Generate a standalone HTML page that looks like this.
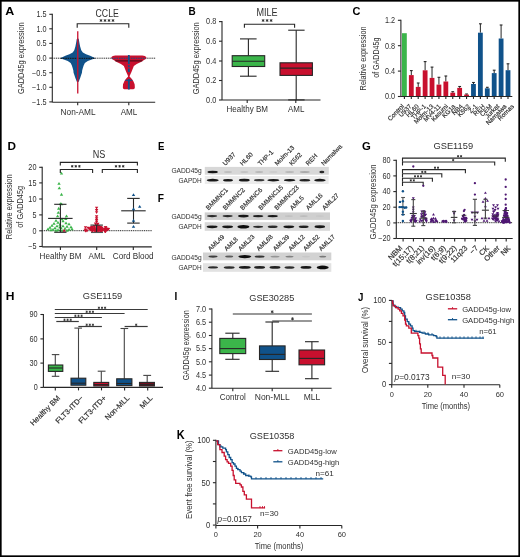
<!DOCTYPE html>
<html><head><meta charset="utf-8"><style>
html,body{margin:0;padding:0;background:#fff;width:520px;height:557px;overflow:hidden}
svg{display:block;will-change:transform;font-family:"Liberation Sans",sans-serif}
</style></head><body>
<svg width="520" height="557" viewBox="0 0 520 557">
<rect width="520" height="557" fill="#fff"/>
<text x="5.30" y="14.70" font-size="11.74" font-weight="bold" fill="#000" textLength="9.00" lengthAdjust="spacingAndGlyphs">A</text>
<line x1="52.30" y1="13.80" x2="52.30" y2="102.20" stroke="#262626" stroke-width="1.1" />
<line x1="49.30" y1="14.30" x2="52.30" y2="14.30" stroke="#262626" stroke-width="1.1" />
<text x="46.55" y="17.17" font-size="8.2" fill="#303030" text-anchor="end" textLength="10.16" lengthAdjust="spacingAndGlyphs">1.5</text>
<line x1="49.30" y1="28.80" x2="52.30" y2="28.80" stroke="#262626" stroke-width="1.1" />
<text x="46.55" y="31.67" font-size="8.2" fill="#303030" text-anchor="end" textLength="10.16" lengthAdjust="spacingAndGlyphs">1.0</text>
<line x1="49.30" y1="43.40" x2="52.30" y2="43.40" stroke="#262626" stroke-width="1.1" />
<text x="46.55" y="46.27" font-size="8.2" fill="#303030" text-anchor="end" textLength="10.16" lengthAdjust="spacingAndGlyphs">0.5</text>
<line x1="49.30" y1="58.10" x2="52.30" y2="58.10" stroke="#262626" stroke-width="1.1" />
<text x="46.55" y="60.97" font-size="8.2" fill="#303030" text-anchor="end" textLength="10.16" lengthAdjust="spacingAndGlyphs">0.0</text>
<line x1="49.30" y1="72.70" x2="52.30" y2="72.70" stroke="#262626" stroke-width="1.1" />
<text x="46.55" y="75.57" font-size="8.2" fill="#303030" text-anchor="end" textLength="14.47" lengthAdjust="spacingAndGlyphs">−0.5</text>
<line x1="49.30" y1="87.30" x2="52.30" y2="87.30" stroke="#262626" stroke-width="1.1" />
<text x="46.55" y="90.17" font-size="8.2" fill="#303030" text-anchor="end" textLength="14.47" lengthAdjust="spacingAndGlyphs">−1.0</text>
<line x1="49.30" y1="101.90" x2="52.30" y2="101.90" stroke="#262626" stroke-width="1.1" />
<text x="46.55" y="104.77" font-size="8.2" fill="#303030" text-anchor="end" textLength="14.47" lengthAdjust="spacingAndGlyphs">−1.5</text>
<line x1="52.30" y1="102.20" x2="155.20" y2="102.20" stroke="#262626" stroke-width="1.1" />
<line x1="77.70" y1="102.20" x2="77.70" y2="105.20" stroke="#262626" stroke-width="1.1" />
<line x1="128.80" y1="102.20" x2="128.80" y2="105.20" stroke="#262626" stroke-width="1.1" />
<text x="60.55" y="114.70" font-size="8.2" fill="#303030" font-weight="normal" textLength="35.10" lengthAdjust="spacingAndGlyphs" >Non-AML</text>
<text x="120.65" y="114.70" font-size="8.2" fill="#303030" font-weight="normal" textLength="16.60" lengthAdjust="spacingAndGlyphs" >AML</text>
<text x="0" y="0" font-size="8.7" text-anchor="middle" fill="#303030" textLength="71.80" lengthAdjust="spacingAndGlyphs" transform="translate(24.10,58.20) rotate(-90)">GADD45g expression</text>
<text x="95.55" y="16.50" font-size="10.5" fill="#303030" font-weight="normal" textLength="23.30" lengthAdjust="spacingAndGlyphs" >CCLE</text>
<path d="M77.20,27.70 L77.20,23.70 L128.80,23.70 L128.80,27.70" fill="none" stroke="#262626" stroke-width="1.1"/>
<line x1="101.00" y1="19.05" x2="101.00" y2="21.95" stroke="#262626" stroke-width="0.85" />
<line x1="99.74" y1="19.77" x2="102.26" y2="21.23" stroke="#262626" stroke-width="0.85" />
<line x1="102.26" y1="19.77" x2="99.74" y2="21.23" stroke="#262626" stroke-width="0.85" />
<line x1="105.00" y1="19.05" x2="105.00" y2="21.95" stroke="#262626" stroke-width="0.85" />
<line x1="103.74" y1="19.77" x2="106.26" y2="21.23" stroke="#262626" stroke-width="0.85" />
<line x1="106.26" y1="19.77" x2="103.74" y2="21.23" stroke="#262626" stroke-width="0.85" />
<line x1="109.00" y1="19.05" x2="109.00" y2="21.95" stroke="#262626" stroke-width="0.85" />
<line x1="107.74" y1="19.77" x2="110.26" y2="21.23" stroke="#262626" stroke-width="0.85" />
<line x1="110.26" y1="19.77" x2="107.74" y2="21.23" stroke="#262626" stroke-width="0.85" />
<line x1="113.00" y1="19.05" x2="113.00" y2="21.95" stroke="#262626" stroke-width="0.85" />
<line x1="111.74" y1="19.77" x2="114.26" y2="21.23" stroke="#262626" stroke-width="0.85" />
<line x1="114.26" y1="19.77" x2="111.74" y2="21.23" stroke="#262626" stroke-width="0.85" />
<line x1="52.30" y1="58.20" x2="155.20" y2="58.20" stroke="#262626" stroke-width="1.0" stroke-dasharray="1.1 0.75"/>
<path d="M77.76,38.20 L78.76,39.00 L79.26,42.10 L80.06,46.20 L81.26,50.20 L82.86,52.60 L86.06,54.20 L90.16,55.80 L93.76,57.50 L95.36,58.30 L91.76,59.50 L87.76,61.10 L84.86,63.10 L83.66,65.50 L82.86,68.00 L82.16,70.40 L81.96,72.70 L81.16,75.00 L80.26,77.80 L79.36,80.00 L78.86,81.50 L77.76,82.30 L77.76,82.30 L76.66,81.50 L76.16,80.00 L75.26,77.80 L74.36,75.00 L73.56,72.70 L73.36,70.40 L72.66,68.00 L71.86,65.50 L70.66,63.10 L67.76,61.10 L63.76,59.50 L60.16,58.30 L61.76,57.50 L65.36,55.80 L69.46,54.20 L72.66,52.60 L74.26,50.20 L75.46,46.20 L76.26,42.10 L76.76,39.00 L77.76,38.20Z" fill="#10528a" stroke="none" stroke-width="0"/>
<line x1="60.76" y1="58.30" x2="94.76" y2="58.30" stroke="#111" stroke-width="1.0" stroke-dasharray="1.5 0.8"/>
<line x1="77.76" y1="31.30" x2="77.76" y2="93.50" stroke="#c8102e" stroke-width="1.3" />
<path d="M142.34,55.40 L144.84,55.90 L146.14,57.00 L146.44,58.10 L145.44,59.20 L144.04,60.10 L140.94,62.10 L136.74,64.10 L133.84,66.10 L132.64,69.00 L131.34,72.20 L129.84,75.40 L129.54,76.60 L131.64,78.70 L133.24,81.10 L134.64,84.30 L134.84,87.50 L134.44,88.70 L133.34,89.20 L124.34,89.20 L123.24,88.70 L122.84,87.50 L123.04,84.30 L124.44,81.10 L126.04,78.70 L128.14,76.60 L127.84,75.40 L126.34,72.20 L125.04,69.00 L123.84,66.10 L120.94,64.10 L116.74,62.10 L113.64,60.10 L112.24,59.20 L111.24,58.10 L111.54,57.00 L112.84,55.90 L115.34,55.40Z" fill="#c8102e" stroke="none" stroke-width="0"/>
<line x1="111.84" y1="58.20" x2="145.84" y2="58.20" stroke="#10528a" stroke-width="1.1" stroke-dasharray="1.4 1.0"/>
<line x1="115.34" y1="60.90" x2="142.34" y2="60.90" stroke="#3a0a14" stroke-width="1.0" />
<line x1="125.34" y1="80.30" x2="132.34" y2="80.30" stroke="#10528a" stroke-width="1.0" />
<line x1="128.84" y1="55.10" x2="128.84" y2="89.60" stroke="#10528a" stroke-width="1.8" stroke-dasharray="9 1.2 2 1.2 3.6 7 10.5"/>
<text x="188.50" y="14.70" font-size="11.74" font-weight="bold" fill="#000" textLength="7.20" lengthAdjust="spacingAndGlyphs">B</text>
<line x1="222.00" y1="21.10" x2="222.00" y2="100.00" stroke="#262626" stroke-width="1.1" />
<line x1="219.00" y1="21.60" x2="222.00" y2="21.60" stroke="#262626" stroke-width="1.1" />
<text x="216.25" y="24.47" font-size="8.2" fill="#303030" text-anchor="end" textLength="10.16" lengthAdjust="spacingAndGlyphs">0.8</text>
<line x1="219.00" y1="41.20" x2="222.00" y2="41.20" stroke="#262626" stroke-width="1.1" />
<text x="216.25" y="44.07" font-size="8.2" fill="#303030" text-anchor="end" textLength="10.16" lengthAdjust="spacingAndGlyphs">0.6</text>
<line x1="219.00" y1="61.00" x2="222.00" y2="61.00" stroke="#262626" stroke-width="1.1" />
<text x="216.25" y="63.87" font-size="8.2" fill="#303030" text-anchor="end" textLength="10.16" lengthAdjust="spacingAndGlyphs">0.4</text>
<line x1="219.00" y1="80.50" x2="222.00" y2="80.50" stroke="#262626" stroke-width="1.1" />
<text x="216.25" y="83.37" font-size="8.2" fill="#303030" text-anchor="end" textLength="10.16" lengthAdjust="spacingAndGlyphs">0.2</text>
<line x1="219.00" y1="100.00" x2="222.00" y2="100.00" stroke="#262626" stroke-width="1.1" />
<text x="216.25" y="102.87" font-size="8.2" fill="#303030" text-anchor="end" textLength="10.16" lengthAdjust="spacingAndGlyphs">0.0</text>
<line x1="222.00" y1="100.00" x2="320.50" y2="100.00" stroke="#262626" stroke-width="1.1" />
<line x1="247.20" y1="100.00" x2="247.20" y2="103.00" stroke="#262626" stroke-width="1.1" />
<line x1="295.80" y1="100.00" x2="295.80" y2="103.00" stroke="#262626" stroke-width="1.1" />
<text x="226.45" y="112.40" font-size="8.2" fill="#303030" font-weight="normal" textLength="41.50" lengthAdjust="spacingAndGlyphs" >Healthy BM</text>
<text x="288.05" y="112.40" font-size="8.2" fill="#303030" font-weight="normal" textLength="16.40" lengthAdjust="spacingAndGlyphs" >AML</text>
<text x="0" y="0" font-size="8.7" text-anchor="middle" fill="#303030" textLength="72.00" lengthAdjust="spacingAndGlyphs" transform="translate(198.80,58.30) rotate(-90)">GADD45g expression</text>
<text x="256.45" y="16.30" font-size="10.5" fill="#303030" font-weight="normal" textLength="21.20" lengthAdjust="spacingAndGlyphs" >MILE</text>
<path d="M244.40,27.80 L244.40,24.20 L294.60,24.20 L294.60,27.80" fill="none" stroke="#262626" stroke-width="1.1"/>
<line x1="263.10" y1="19.05" x2="263.10" y2="21.95" stroke="#262626" stroke-width="0.85" />
<line x1="261.84" y1="19.77" x2="264.36" y2="21.23" stroke="#262626" stroke-width="0.85" />
<line x1="264.36" y1="19.77" x2="261.84" y2="21.23" stroke="#262626" stroke-width="0.85" />
<line x1="267.10" y1="19.05" x2="267.10" y2="21.95" stroke="#262626" stroke-width="0.85" />
<line x1="265.84" y1="19.77" x2="268.36" y2="21.23" stroke="#262626" stroke-width="0.85" />
<line x1="268.36" y1="19.77" x2="265.84" y2="21.23" stroke="#262626" stroke-width="0.85" />
<line x1="271.10" y1="19.05" x2="271.10" y2="21.95" stroke="#262626" stroke-width="0.85" />
<line x1="269.84" y1="19.77" x2="272.36" y2="21.23" stroke="#262626" stroke-width="0.85" />
<line x1="272.36" y1="19.77" x2="269.84" y2="21.23" stroke="#262626" stroke-width="0.85" />
<line x1="248.40" y1="38.90" x2="248.40" y2="55.70" stroke="#262626" stroke-width="1.1" />
<line x1="248.40" y1="66.50" x2="248.40" y2="76.20" stroke="#262626" stroke-width="1.1" />
<line x1="240.00" y1="38.90" x2="256.60" y2="38.90" stroke="#262626" stroke-width="1.1" />
<line x1="240.00" y1="76.20" x2="256.60" y2="76.20" stroke="#262626" stroke-width="1.1" />
<rect x="232.20" y="55.70" width="32.50" height="10.80" fill="#3bb54a" stroke="#262626" stroke-width="1.1" />
<line x1="232.20" y1="61.30" x2="264.70" y2="61.30" stroke="#262626" stroke-width="1.1" />
<line x1="296.20" y1="30.20" x2="296.20" y2="62.80" stroke="#262626" stroke-width="1.1" />
<line x1="296.20" y1="75.40" x2="296.20" y2="99.90" stroke="#262626" stroke-width="1.1" />
<line x1="288.20" y1="30.20" x2="304.60" y2="30.20" stroke="#262626" stroke-width="1.1" />
<line x1="288.20" y1="99.90" x2="304.60" y2="99.90" stroke="#262626" stroke-width="1.1" />
<rect x="280.00" y="62.80" width="32.40" height="12.60" fill="#c8102e" stroke="#262626" stroke-width="1.1" />
<line x1="280.00" y1="68.10" x2="312.40" y2="68.10" stroke="#262626" stroke-width="1.1" />
<text x="352.60" y="14.60" font-size="11.45" font-weight="bold" fill="#000" textLength="7.90" lengthAdjust="spacingAndGlyphs">C</text>
<line x1="400.90" y1="19.80" x2="400.90" y2="96.50" stroke="#262626" stroke-width="1.1" />
<line x1="397.90" y1="20.30" x2="400.90" y2="20.30" stroke="#262626" stroke-width="1.1" />
<text x="395.15" y="23.17" font-size="8.2" fill="#303030" text-anchor="end" textLength="10.16" lengthAdjust="spacingAndGlyphs">1.2</text>
<line x1="397.90" y1="45.70" x2="400.90" y2="45.70" stroke="#262626" stroke-width="1.1" />
<text x="395.15" y="48.57" font-size="8.2" fill="#303030" text-anchor="end" textLength="10.16" lengthAdjust="spacingAndGlyphs">0.8</text>
<line x1="397.90" y1="71.10" x2="400.90" y2="71.10" stroke="#262626" stroke-width="1.1" />
<text x="395.15" y="73.97" font-size="8.2" fill="#303030" text-anchor="end" textLength="10.16" lengthAdjust="spacingAndGlyphs">0.4</text>
<line x1="397.90" y1="96.50" x2="400.90" y2="96.50" stroke="#262626" stroke-width="1.1" />
<text x="395.15" y="99.37" font-size="8.2" fill="#303030" text-anchor="end" textLength="10.16" lengthAdjust="spacingAndGlyphs">0.0</text>
<rect x="402.00" y="33.20" width="4.8" height="63.30" fill="#3bb54a"/>
<line x1="411.31" y1="70.60" x2="411.31" y2="75.10" stroke="#262626" stroke-width="1.0" />
<line x1="409.91" y1="70.60" x2="412.71" y2="70.60" stroke="#262626" stroke-width="1.1" />
<rect x="408.91" y="75.10" width="4.8" height="21.40" fill="#c8102e"/>
<line x1="418.21" y1="83.00" x2="418.21" y2="86.90" stroke="#262626" stroke-width="1.0" />
<line x1="416.81" y1="83.00" x2="419.61" y2="83.00" stroke="#262626" stroke-width="1.1" />
<rect x="415.81" y="86.90" width="4.8" height="9.60" fill="#c8102e"/>
<line x1="425.12" y1="61.60" x2="425.12" y2="70.30" stroke="#262626" stroke-width="1.0" />
<line x1="423.72" y1="61.60" x2="426.52" y2="61.60" stroke="#262626" stroke-width="1.1" />
<rect x="422.72" y="70.30" width="4.8" height="26.20" fill="#c8102e"/>
<line x1="432.03" y1="67.10" x2="432.03" y2="77.90" stroke="#262626" stroke-width="1.0" />
<line x1="430.63" y1="67.10" x2="433.43" y2="67.10" stroke="#262626" stroke-width="1.1" />
<rect x="429.63" y="77.90" width="4.8" height="18.60" fill="#c8102e"/>
<line x1="438.93" y1="77.30" x2="438.93" y2="84.60" stroke="#262626" stroke-width="1.0" />
<line x1="437.53" y1="77.30" x2="440.33" y2="77.30" stroke="#262626" stroke-width="1.1" />
<rect x="436.53" y="84.60" width="4.8" height="11.90" fill="#c8102e"/>
<line x1="445.84" y1="76.00" x2="445.84" y2="81.50" stroke="#262626" stroke-width="1.0" />
<line x1="444.44" y1="76.00" x2="447.24" y2="76.00" stroke="#262626" stroke-width="1.1" />
<rect x="443.44" y="81.50" width="4.8" height="15.00" fill="#c8102e"/>
<line x1="452.75" y1="91.70" x2="452.75" y2="92.70" stroke="#262626" stroke-width="1.0" />
<line x1="451.35" y1="91.70" x2="454.15" y2="91.70" stroke="#262626" stroke-width="1.1" />
<rect x="450.35" y="92.70" width="4.8" height="3.80" fill="#c8102e"/>
<line x1="459.66" y1="86.50" x2="459.66" y2="87.90" stroke="#262626" stroke-width="1.0" />
<line x1="458.26" y1="86.50" x2="461.06" y2="86.50" stroke="#262626" stroke-width="1.1" />
<rect x="457.26" y="87.90" width="4.8" height="8.60" fill="#c8102e"/>
<line x1="466.56" y1="94.00" x2="466.56" y2="94.60" stroke="#262626" stroke-width="1.0" />
<line x1="465.16" y1="94.00" x2="467.96" y2="94.00" stroke="#262626" stroke-width="1.1" />
<rect x="464.16" y="94.60" width="4.8" height="1.90" fill="#c8102e"/>
<line x1="473.47" y1="82.50" x2="473.47" y2="84.00" stroke="#262626" stroke-width="1.0" />
<line x1="472.07" y1="82.50" x2="474.87" y2="82.50" stroke="#262626" stroke-width="1.1" />
<rect x="471.07" y="84.00" width="4.8" height="12.50" fill="#10528a"/>
<line x1="480.38" y1="23.80" x2="480.38" y2="32.70" stroke="#262626" stroke-width="1.0" />
<line x1="478.98" y1="23.80" x2="481.78" y2="23.80" stroke="#262626" stroke-width="1.1" />
<rect x="477.98" y="32.70" width="4.8" height="63.80" fill="#10528a"/>
<line x1="487.28" y1="87.30" x2="487.28" y2="88.30" stroke="#262626" stroke-width="1.0" />
<line x1="485.88" y1="87.30" x2="488.68" y2="87.30" stroke="#262626" stroke-width="1.1" />
<rect x="484.88" y="88.30" width="4.8" height="8.20" fill="#10528a"/>
<line x1="494.19" y1="70.20" x2="494.19" y2="73.10" stroke="#262626" stroke-width="1.0" />
<line x1="492.79" y1="70.20" x2="495.59" y2="70.20" stroke="#262626" stroke-width="1.1" />
<rect x="491.79" y="73.10" width="4.8" height="23.40" fill="#10528a"/>
<line x1="501.10" y1="25.00" x2="501.10" y2="38.50" stroke="#262626" stroke-width="1.0" />
<line x1="499.70" y1="25.00" x2="502.50" y2="25.00" stroke="#262626" stroke-width="1.1" />
<rect x="498.70" y="38.50" width="4.8" height="58.00" fill="#10528a"/>
<line x1="508.00" y1="63.80" x2="508.00" y2="70.20" stroke="#262626" stroke-width="1.0" />
<line x1="506.61" y1="63.80" x2="509.41" y2="63.80" stroke="#262626" stroke-width="1.1" />
<rect x="505.61" y="70.20" width="4.8" height="26.30" fill="#10528a"/>
<line x1="400.90" y1="96.50" x2="512.30" y2="96.50" stroke="#262626" stroke-width="1.1" />
<line x1="404.40" y1="96.50" x2="404.40" y2="98.90" stroke="#262626" stroke-width="1.1" />
<line x1="411.31" y1="96.50" x2="411.31" y2="98.90" stroke="#262626" stroke-width="1.1" />
<line x1="418.21" y1="96.50" x2="418.21" y2="98.90" stroke="#262626" stroke-width="1.1" />
<line x1="425.12" y1="96.50" x2="425.12" y2="98.90" stroke="#262626" stroke-width="1.1" />
<line x1="432.03" y1="96.50" x2="432.03" y2="98.90" stroke="#262626" stroke-width="1.1" />
<line x1="438.93" y1="96.50" x2="438.93" y2="98.90" stroke="#262626" stroke-width="1.1" />
<line x1="445.84" y1="96.50" x2="445.84" y2="98.90" stroke="#262626" stroke-width="1.1" />
<line x1="452.75" y1="96.50" x2="452.75" y2="98.90" stroke="#262626" stroke-width="1.1" />
<line x1="459.66" y1="96.50" x2="459.66" y2="98.90" stroke="#262626" stroke-width="1.1" />
<line x1="466.56" y1="96.50" x2="466.56" y2="98.90" stroke="#262626" stroke-width="1.1" />
<line x1="473.47" y1="96.50" x2="473.47" y2="98.90" stroke="#262626" stroke-width="1.1" />
<line x1="480.38" y1="96.50" x2="480.38" y2="98.90" stroke="#262626" stroke-width="1.1" />
<line x1="487.28" y1="96.50" x2="487.28" y2="98.90" stroke="#262626" stroke-width="1.1" />
<line x1="494.19" y1="96.50" x2="494.19" y2="98.90" stroke="#262626" stroke-width="1.1" />
<line x1="501.10" y1="96.50" x2="501.10" y2="98.90" stroke="#262626" stroke-width="1.1" />
<line x1="508.00" y1="96.50" x2="508.00" y2="98.90" stroke="#262626" stroke-width="1.1" />
<text x="0" y="0" font-size="6.3" text-anchor="end" fill="#303030" stroke="#303030" stroke-width="0.18"  transform="translate(404.60,106.80) rotate(-45)">Control</text>
<text x="0" y="0" font-size="6.3" text-anchor="end" fill="#303030" stroke="#303030" stroke-width="0.18"  transform="translate(411.92,106.80) rotate(-45)">U937</text>
<text x="0" y="0" font-size="6.3" text-anchor="end" fill="#303030" stroke="#303030" stroke-width="0.18"  transform="translate(419.24,106.80) rotate(-45)">HL60</text>
<text x="0" y="0" font-size="6.3" text-anchor="end" fill="#303030" stroke="#303030" stroke-width="0.18"  transform="translate(426.56,106.80) rotate(-45)">THP-1</text>
<text x="0" y="0" font-size="6.3" text-anchor="end" fill="#303030" stroke="#303030" stroke-width="0.18"  transform="translate(433.88,106.80) rotate(-45)">Molm-13</text>
<text x="0" y="0" font-size="6.3" text-anchor="end" fill="#303030" stroke="#303030" stroke-width="0.18"  transform="translate(441.20,106.80) rotate(-45)">MV4-11</text>
<text x="0" y="0" font-size="6.3" text-anchor="end" fill="#303030" stroke="#303030" stroke-width="0.18"  transform="translate(448.52,106.80) rotate(-45)">Kasumi</text>
<text x="0" y="0" font-size="6.3" text-anchor="end" fill="#303030" stroke="#303030" stroke-width="0.18"  transform="translate(455.84,106.80) rotate(-45)">KG1a</text>
<text x="0" y="0" font-size="6.3" text-anchor="end" fill="#303030" stroke="#303030" stroke-width="0.18"  transform="translate(463.16,106.80) rotate(-45)">NB4</text>
<text x="0" y="0" font-size="6.3" text-anchor="end" fill="#303030" stroke="#303030" stroke-width="0.18"  transform="translate(470.48,106.80) rotate(-45)">K562</text>
<text x="0" y="0" font-size="6.3" text-anchor="end" fill="#303030" stroke="#303030" stroke-width="0.18"  transform="translate(477.80,106.80) rotate(-45)">Z-1</text>
<text x="0" y="0" font-size="6.3" text-anchor="end" fill="#303030" stroke="#303030" stroke-width="0.18"  transform="translate(485.12,106.80) rotate(-45)">REH</text>
<text x="0" y="0" font-size="6.3" text-anchor="end" fill="#303030" stroke="#303030" stroke-width="0.18"  transform="translate(492.44,106.80) rotate(-45)">CEM</text>
<text x="0" y="0" font-size="6.3" text-anchor="end" fill="#303030" stroke="#303030" stroke-width="0.18"  transform="translate(499.76,106.80) rotate(-45)">Jurkat</text>
<text x="0" y="0" font-size="6.3" text-anchor="end" fill="#303030" stroke="#303030" stroke-width="0.18"  transform="translate(507.08,106.80) rotate(-45)">Namalwa</text>
<text x="0" y="0" font-size="6.3" text-anchor="end" fill="#303030" stroke="#303030" stroke-width="0.18"  transform="translate(514.40,106.80) rotate(-45)">Romas</text>
<text x="0" y="0" font-size="8.2" text-anchor="middle" fill="#303030" textLength="64.00" lengthAdjust="spacingAndGlyphs" transform="translate(366.40,58.40) rotate(-90)">Relative expression</text>
<text x="0" y="0" font-size="8.2" text-anchor="middle" fill="#303030" textLength="40.20" lengthAdjust="spacingAndGlyphs" transform="translate(379.40,57.70) rotate(-90)">of GADD45g</text>
<text x="7.60" y="149.60" font-size="11.74" font-weight="bold" fill="#000" textLength="8.50" lengthAdjust="spacingAndGlyphs">D</text>
<line x1="42.20" y1="166.80" x2="42.20" y2="246.90" stroke="#262626" stroke-width="1.1" />
<line x1="39.20" y1="167.30" x2="42.20" y2="167.30" stroke="#262626" stroke-width="1.1" />
<text x="36.45" y="170.17" font-size="8.2" fill="#303030" text-anchor="end" textLength="8.11" lengthAdjust="spacingAndGlyphs">20</text>
<line x1="39.20" y1="182.90" x2="42.20" y2="182.90" stroke="#262626" stroke-width="1.1" />
<text x="36.45" y="185.77" font-size="8.2" fill="#303030" text-anchor="end" textLength="8.11" lengthAdjust="spacingAndGlyphs">15</text>
<line x1="39.20" y1="199.00" x2="42.20" y2="199.00" stroke="#262626" stroke-width="1.1" />
<text x="36.45" y="201.87" font-size="8.2" fill="#303030" text-anchor="end" textLength="8.11" lengthAdjust="spacingAndGlyphs">10</text>
<line x1="39.20" y1="214.90" x2="42.20" y2="214.90" stroke="#262626" stroke-width="1.1" />
<text x="36.45" y="217.77" font-size="8.2" fill="#303030" text-anchor="end" textLength="4.00" lengthAdjust="spacingAndGlyphs">5</text>
<line x1="39.20" y1="230.80" x2="42.20" y2="230.80" stroke="#262626" stroke-width="1.1" />
<text x="36.45" y="233.67" font-size="8.2" fill="#303030" text-anchor="end" textLength="4.00" lengthAdjust="spacingAndGlyphs">0</text>
<line x1="39.20" y1="246.50" x2="42.20" y2="246.50" stroke="#262626" stroke-width="1.1" />
<text x="36.45" y="249.37" font-size="8.2" fill="#303030" text-anchor="end" textLength="8.31" lengthAdjust="spacingAndGlyphs">−5</text>
<line x1="42.20" y1="246.90" x2="151.80" y2="246.90" stroke="#262626" stroke-width="1.1" />
<line x1="60.40" y1="246.90" x2="60.40" y2="249.90" stroke="#262626" stroke-width="1.1" />
<line x1="96.70" y1="246.90" x2="96.70" y2="249.90" stroke="#262626" stroke-width="1.1" />
<line x1="133.30" y1="246.90" x2="133.30" y2="249.90" stroke="#262626" stroke-width="1.1" />
<text x="39.55" y="259.00" font-size="8.2" fill="#303030" font-weight="normal" textLength="41.90" lengthAdjust="spacingAndGlyphs" >Healthy BM</text>
<text x="88.55" y="259.00" font-size="8.2" fill="#303030" font-weight="normal" textLength="16.60" lengthAdjust="spacingAndGlyphs" >AML</text>
<text x="112.75" y="259.00" font-size="8.2" fill="#303030" font-weight="normal" textLength="40.90" lengthAdjust="spacingAndGlyphs" >Cord Blood</text>
<text x="0" y="0" font-size="8.4" text-anchor="middle" fill="#303030" textLength="64.70" lengthAdjust="spacingAndGlyphs" transform="translate(11.70,206.80) rotate(-90)">Relative expression</text>
<text x="0" y="0" font-size="9.4" text-anchor="middle" fill="#303030" textLength="42.00" lengthAdjust="spacingAndGlyphs" transform="translate(23.10,206.80) rotate(-90)">of GADD45g</text>
<text x="92.75" y="158.20" font-size="10.0" fill="#303030" font-weight="normal" textLength="12.60" lengthAdjust="spacingAndGlyphs" >NS</text>
<path d="M60.30,165.60 L60.30,162.40 L137.40,162.40 L137.40,165.60" fill="none" stroke="#262626" stroke-width="1.1"/>
<path d="M60.30,173.00 L60.30,169.50 L92.60,169.50 L92.60,173.00" fill="none" stroke="#262626" stroke-width="1.1"/>
<path d="M102.30,173.00 L102.30,169.50 L137.40,169.50 L137.40,173.00" fill="none" stroke="#262626" stroke-width="1.1"/>
<line x1="72.20" y1="165.00" x2="72.20" y2="167.60" stroke="#262626" stroke-width="0.85" />
<line x1="71.07" y1="165.65" x2="73.33" y2="166.95" stroke="#262626" stroke-width="0.85" />
<line x1="73.33" y1="165.65" x2="71.07" y2="166.95" stroke="#262626" stroke-width="0.85" />
<line x1="75.80" y1="165.00" x2="75.80" y2="167.60" stroke="#262626" stroke-width="0.85" />
<line x1="74.67" y1="165.65" x2="76.93" y2="166.95" stroke="#262626" stroke-width="0.85" />
<line x1="76.93" y1="165.65" x2="74.67" y2="166.95" stroke="#262626" stroke-width="0.85" />
<line x1="79.40" y1="165.00" x2="79.40" y2="167.60" stroke="#262626" stroke-width="0.85" />
<line x1="78.27" y1="165.65" x2="80.53" y2="166.95" stroke="#262626" stroke-width="0.85" />
<line x1="80.53" y1="165.65" x2="78.27" y2="166.95" stroke="#262626" stroke-width="0.85" />
<line x1="116.00" y1="165.00" x2="116.00" y2="167.60" stroke="#262626" stroke-width="0.85" />
<line x1="114.87" y1="165.65" x2="117.13" y2="166.95" stroke="#262626" stroke-width="0.85" />
<line x1="117.13" y1="165.65" x2="114.87" y2="166.95" stroke="#262626" stroke-width="0.85" />
<line x1="119.60" y1="165.00" x2="119.60" y2="167.60" stroke="#262626" stroke-width="0.85" />
<line x1="118.47" y1="165.65" x2="120.73" y2="166.95" stroke="#262626" stroke-width="0.85" />
<line x1="120.73" y1="165.65" x2="118.47" y2="166.95" stroke="#262626" stroke-width="0.85" />
<line x1="123.20" y1="165.00" x2="123.20" y2="167.60" stroke="#262626" stroke-width="0.85" />
<line x1="122.07" y1="165.65" x2="124.33" y2="166.95" stroke="#262626" stroke-width="0.85" />
<line x1="124.33" y1="165.65" x2="122.07" y2="166.95" stroke="#262626" stroke-width="0.85" />
<line x1="42.20" y1="230.70" x2="152.00" y2="230.70" stroke="#262626" stroke-width="1.0" stroke-dasharray="1.1 0.75"/>
<path d="M59.80,174.56 L63.20,174.56 L61.50,171.67Z" fill="#3bb54a"/>
<path d="M57.30,184.86 L60.70,184.86 L59.00,181.97Z" fill="#3bb54a"/>
<path d="M57.60,189.36 L61.00,189.36 L59.30,186.47Z" fill="#3bb54a"/>
<path d="M59.80,195.76 L63.20,195.76 L61.50,192.87Z" fill="#3bb54a"/>
<path d="M58.70,205.06 L62.10,205.06 L60.40,202.17Z" fill="#3bb54a"/>
<path d="M59.90,205.36 L63.30,205.36 L61.60,202.47Z" fill="#3bb54a"/>
<path d="M57.00,209.76 L60.40,209.76 L58.70,206.87Z" fill="#3bb54a"/>
<path d="M56.60,213.86 L60.00,213.86 L58.30,210.97Z" fill="#3bb54a"/>
<path d="M55.90,217.36 L59.30,217.36 L57.60,214.47Z" fill="#3bb54a"/>
<path d="M64.80,217.36 L68.20,217.36 L66.50,214.47Z" fill="#3bb54a"/>
<path d="M64.10,220.06 L67.50,220.06 L65.80,217.17Z" fill="#3bb54a"/>
<path d="M60.30,220.36 L63.70,220.36 L62.00,217.47Z" fill="#3bb54a"/>
<path d="M54.30,221.86 L57.70,221.86 L56.00,218.97Z" fill="#3bb54a"/>
<path d="M61.30,222.36 L64.70,222.36 L63.00,219.47Z" fill="#3bb54a"/>
<path d="M56.30,223.86 L59.70,223.86 L58.00,220.97Z" fill="#3bb54a"/>
<path d="M52.30,224.86 L55.70,224.86 L54.00,221.97Z" fill="#3bb54a"/>
<path d="M64.30,224.36 L67.70,224.36 L66.00,221.47Z" fill="#3bb54a"/>
<path d="M67.30,225.36 L70.70,225.36 L69.00,222.47Z" fill="#3bb54a"/>
<path d="M58.30,225.86 L61.70,225.86 L60.00,222.97Z" fill="#3bb54a"/>
<path d="M50.30,226.86 L53.70,226.86 L52.00,223.97Z" fill="#3bb54a"/>
<path d="M55.30,227.36 L58.70,227.36 L57.00,224.47Z" fill="#3bb54a"/>
<path d="M61.30,227.36 L64.70,227.36 L63.00,224.47Z" fill="#3bb54a"/>
<path d="M65.30,227.86 L68.70,227.86 L67.00,224.97Z" fill="#3bb54a"/>
<path d="M69.30,228.36 L72.70,228.36 L71.00,225.47Z" fill="#3bb54a"/>
<path d="M48.30,228.86 L51.70,228.86 L50.00,225.97Z" fill="#3bb54a"/>
<path d="M53.30,229.36 L56.70,229.36 L55.00,226.47Z" fill="#3bb54a"/>
<path d="M59.30,229.36 L62.70,229.36 L61.00,226.47Z" fill="#3bb54a"/>
<path d="M63.30,229.86 L66.70,229.86 L65.00,226.97Z" fill="#3bb54a"/>
<path d="M46.30,230.36 L49.70,230.36 L48.00,227.47Z" fill="#3bb54a"/>
<path d="M51.30,230.86 L54.70,230.86 L53.00,227.97Z" fill="#3bb54a"/>
<path d="M56.30,231.16 L59.70,231.16 L58.00,228.27Z" fill="#3bb54a"/>
<path d="M67.30,230.86 L70.70,230.86 L69.00,227.97Z" fill="#3bb54a"/>
<path d="M70.30,230.36 L73.70,230.36 L72.00,227.47Z" fill="#3bb54a"/>
<path d="M49.30,231.36 L52.70,231.36 L51.00,228.47Z" fill="#3bb54a"/>
<path d="M54.30,231.86 L57.70,231.86 L56.00,228.97Z" fill="#3bb54a"/>
<path d="M60.30,231.86 L63.70,231.86 L62.00,228.97Z" fill="#3bb54a"/>
<path d="M65.30,231.66 L68.70,231.66 L67.00,228.77Z" fill="#3bb54a"/>
<path d="M58.30,228.36 L61.70,228.36 L60.00,225.47Z" fill="#3bb54a"/>
<path d="M62.50,231.66 L65.90,231.66 L64.20,228.77Z" fill="#c8102e"/>
<line x1="48.10" y1="218.40" x2="72.60" y2="218.40" stroke="#262626" stroke-width="1.1" />
<line x1="60.40" y1="204.30" x2="60.40" y2="232.30" stroke="#262626" stroke-width="1.1" />
<line x1="54.20" y1="204.30" x2="66.50" y2="204.30" stroke="#262626" stroke-width="1.1" />
<line x1="54.20" y1="232.30" x2="66.50" y2="232.30" stroke="#262626" stroke-width="1.1" />
<path d="M94.90,206.64 L98.30,206.64 L96.60,209.53Z" fill="#c8102e"/>
<path d="M94.90,209.04 L98.30,209.04 L96.60,211.93Z" fill="#c8102e"/>
<path d="M94.90,211.14 L98.30,211.14 L96.60,214.03Z" fill="#c8102e"/>
<path d="M94.90,215.24 L98.30,215.24 L96.60,218.13Z" fill="#c8102e"/>
<path d="M94.90,217.34 L98.30,217.34 L96.60,220.23Z" fill="#c8102e"/>
<path d="M94.90,219.04 L98.30,219.04 L96.60,221.93Z" fill="#c8102e"/>
<path d="M94.90,220.84 L98.30,220.84 L96.60,223.73Z" fill="#c8102e"/>
<path d="M93.80,222.54 L97.20,222.54 L95.50,225.43Z" fill="#c8102e"/>
<path d="M96.10,222.84 L99.50,222.84 L97.80,225.73Z" fill="#c8102e"/>
<path d="M94.90,224.14 L98.30,224.14 L96.60,227.03Z" fill="#c8102e"/>
<path d="M92.80,225.14 L96.20,225.14 L94.50,228.03Z" fill="#c8102e"/>
<path d="M97.00,225.14 L100.40,225.14 L98.70,228.03Z" fill="#c8102e"/>
<path d="M88.89,228.28 L92.29,228.28 L90.59,231.17Z" fill="#c8102e"/>
<path d="M91.99,228.54 L95.39,228.54 L93.69,231.43Z" fill="#c8102e"/>
<path d="M98.00,226.22 L101.40,226.22 L99.70,229.11Z" fill="#c8102e"/>
<path d="M83.61,229.54 L87.01,229.54 L85.31,232.43Z" fill="#c8102e"/>
<path d="M89.39,226.95 L92.79,226.95 L91.09,229.84Z" fill="#c8102e"/>
<path d="M106.70,227.96 L110.10,227.96 L108.40,230.85Z" fill="#c8102e"/>
<path d="M102.96,227.99 L106.36,227.99 L104.66,230.88Z" fill="#c8102e"/>
<path d="M98.32,226.59 L101.72,226.59 L100.02,229.48Z" fill="#c8102e"/>
<path d="M98.22,229.67 L101.62,229.67 L99.92,232.56Z" fill="#c8102e"/>
<path d="M95.59,229.13 L98.99,229.13 L97.29,232.02Z" fill="#c8102e"/>
<path d="M99.08,226.22 L102.48,226.22 L100.78,229.11Z" fill="#c8102e"/>
<path d="M101.12,228.48 L104.52,228.48 L102.82,231.37Z" fill="#c8102e"/>
<path d="M90.38,226.07 L93.78,226.07 L92.08,228.96Z" fill="#c8102e"/>
<path d="M103.64,227.97 L107.04,227.97 L105.34,230.86Z" fill="#c8102e"/>
<path d="M100.19,229.72 L103.59,229.72 L101.89,232.61Z" fill="#c8102e"/>
<path d="M100.08,229.90 L103.48,229.90 L101.78,232.79Z" fill="#c8102e"/>
<path d="M92.58,229.38 L95.98,229.38 L94.28,232.27Z" fill="#c8102e"/>
<path d="M93.75,229.96 L97.15,229.96 L95.45,232.85Z" fill="#c8102e"/>
<path d="M103.95,226.36 L107.35,226.36 L105.65,229.25Z" fill="#c8102e"/>
<path d="M86.50,226.87 L89.90,226.87 L88.20,229.76Z" fill="#c8102e"/>
<path d="M105.99,227.82 L109.39,227.82 L107.69,230.71Z" fill="#c8102e"/>
<path d="M98.03,227.23 L101.43,227.23 L99.73,230.12Z" fill="#c8102e"/>
<path d="M95.22,227.60 L98.62,227.60 L96.92,230.49Z" fill="#c8102e"/>
<path d="M91.55,228.46 L94.95,228.46 L93.25,231.35Z" fill="#c8102e"/>
<path d="M97.03,229.83 L100.43,229.83 L98.73,232.72Z" fill="#c8102e"/>
<path d="M99.33,229.93 L102.73,229.93 L101.03,232.82Z" fill="#c8102e"/>
<path d="M103.43,230.20 L106.83,230.20 L105.13,233.09Z" fill="#c8102e"/>
<path d="M99.07,226.64 L102.47,226.64 L100.77,229.53Z" fill="#c8102e"/>
<path d="M103.52,230.09 L106.92,230.09 L105.22,232.98Z" fill="#c8102e"/>
<path d="M104.56,228.39 L107.96,228.39 L106.26,231.28Z" fill="#c8102e"/>
<path d="M100.07,226.85 L103.47,226.85 L101.77,229.74Z" fill="#c8102e"/>
<path d="M102.84,228.41 L106.24,228.41 L104.54,231.30Z" fill="#c8102e"/>
<path d="M90.00,226.21 L93.40,226.21 L91.70,229.10Z" fill="#c8102e"/>
<path d="M103.37,230.20 L106.77,230.20 L105.07,233.09Z" fill="#c8102e"/>
<path d="M85.38,229.38 L88.78,229.38 L87.08,232.27Z" fill="#c8102e"/>
<path d="M92.95,226.59 L96.35,226.59 L94.65,229.48Z" fill="#c8102e"/>
<path d="M90.21,229.25 L93.61,229.25 L91.91,232.14Z" fill="#c8102e"/>
<path d="M103.81,226.13 L107.21,226.13 L105.51,229.02Z" fill="#c8102e"/>
<path d="M97.74,226.13 L101.14,226.13 L99.44,229.02Z" fill="#c8102e"/>
<path d="M100.18,227.36 L103.58,227.36 L101.88,230.25Z" fill="#c8102e"/>
<path d="M104.00,230.16 L107.40,230.16 L105.70,233.05Z" fill="#c8102e"/>
<path d="M95.18,230.23 L98.58,230.23 L96.88,233.12Z" fill="#c8102e"/>
<path d="M90.58,226.27 L93.98,226.27 L92.28,229.16Z" fill="#c8102e"/>
<path d="M97.39,226.07 L100.79,226.07 L99.09,228.96Z" fill="#c8102e"/>
<path d="M87.94,227.69 L91.34,227.69 L89.64,230.58Z" fill="#c8102e"/>
<path d="M97.65,226.61 L101.05,226.61 L99.35,229.50Z" fill="#c8102e"/>
<path d="M84.30,229.67 L87.70,229.67 L86.00,232.56Z" fill="#c8102e"/>
<path d="M90.68,230.06 L94.08,230.06 L92.38,232.95Z" fill="#c8102e"/>
<path d="M104.37,227.56 L107.77,227.56 L106.07,230.45Z" fill="#c8102e"/>
<path d="M94.12,228.18 L97.52,228.18 L95.82,231.07Z" fill="#c8102e"/>
<path d="M98.43,228.50 L101.83,228.50 L100.13,231.39Z" fill="#c8102e"/>
<path d="M96.44,228.61 L99.84,228.61 L98.14,231.50Z" fill="#c8102e"/>
<path d="M105.40,228.12 L108.80,228.12 L107.10,231.01Z" fill="#c8102e"/>
<path d="M93.43,229.04 L96.83,229.04 L95.13,231.93Z" fill="#c8102e"/>
<path d="M88.88,227.23 L92.28,227.23 L90.58,230.12Z" fill="#c8102e"/>
<path d="M106.28,228.18 L109.68,228.18 L107.98,231.07Z" fill="#c8102e"/>
<path d="M96.19,225.99 L99.59,225.99 L97.89,228.88Z" fill="#c8102e"/>
<path d="M93.06,228.43 L96.46,228.43 L94.76,231.32Z" fill="#c8102e"/>
<path d="M83.77,228.59 L87.17,228.59 L85.47,231.48Z" fill="#c8102e"/>
<path d="M98.16,226.20 L101.56,226.20 L99.86,229.09Z" fill="#c8102e"/>
<path d="M98.04,227.94 L101.44,227.94 L99.74,230.83Z" fill="#c8102e"/>
<path d="M99.26,227.46 L102.66,227.46 L100.96,230.35Z" fill="#c8102e"/>
<path d="M99.91,229.11 L103.31,229.11 L101.61,232.00Z" fill="#c8102e"/>
<path d="M83.82,226.20 L87.22,226.20 L85.52,229.09Z" fill="#c8102e"/>
<path d="M99.19,230.08 L102.59,230.08 L100.89,232.97Z" fill="#c8102e"/>
<path d="M89.20,227.90 L92.60,227.90 L90.90,230.79Z" fill="#c8102e"/>
<path d="M97.23,227.32 L100.63,227.32 L98.93,230.21Z" fill="#c8102e"/>
<path d="M91.85,227.28 L95.25,227.28 L93.55,230.17Z" fill="#c8102e"/>
<path d="M91.98,228.50 L95.38,228.50 L93.68,231.39Z" fill="#c8102e"/>
<path d="M90.36,227.56 L93.76,227.56 L92.06,230.45Z" fill="#c8102e"/>
<line x1="90.40" y1="225.10" x2="102.90" y2="225.10" stroke="#262626" stroke-width="1.1" />
<line x1="96.60" y1="225.10" x2="96.60" y2="232.50" stroke="#262626" stroke-width="1.1" />
<line x1="91.00" y1="232.50" x2="103.00" y2="232.50" stroke="#555" stroke-width="1.1" />
<line x1="121.20" y1="210.80" x2="145.70" y2="210.80" stroke="#262626" stroke-width="1.1" />
<line x1="133.50" y1="198.40" x2="133.50" y2="223.10" stroke="#262626" stroke-width="1.1" />
<line x1="127.20" y1="198.40" x2="139.70" y2="198.40" stroke="#262626" stroke-width="1.1" />
<line x1="127.20" y1="223.10" x2="139.70" y2="223.10" stroke="#262626" stroke-width="1.1" />
<path d="M131.80,196.06 L135.20,196.06 L133.50,193.17Z" fill="#10528a"/>
<path d="M138.00,207.86 L141.40,207.86 L139.70,204.97Z" fill="#10528a"/>
<path d="M131.80,210.16 L135.20,210.16 L133.50,207.27Z" fill="#10528a"/>
<path d="M131.80,221.66 L135.20,221.66 L133.50,218.77Z" fill="#10528a"/>
<path d="M131.80,227.86 L135.20,227.86 L133.50,224.97Z" fill="#10528a"/>
<defs><filter id="bl" x="-30%" y="-100%" width="160%" height="300%"><feGaussianBlur stdDeviation="0.7"/></filter></defs>
<text x="157.90" y="149.70" font-size="11.74" font-weight="bold" fill="#000" textLength="6.40" lengthAdjust="spacingAndGlyphs">E</text>
<text x="171.45" y="173.30" font-size="7.6" fill="#303030" font-weight="normal" textLength="30.30" lengthAdjust="spacingAndGlyphs" >GADD45g</text>
<text x="178.55" y="182.70" font-size="7.6" fill="#303030" font-weight="normal" textLength="23.20" lengthAdjust="spacingAndGlyphs" >GAPDH</text>
<rect x="204.8" y="166.9" width="124.0" height="7.8" fill="#d8d8d8"/>
<rect x="204.8" y="176.0" width="123.8" height="8.0" fill="#ececec"/>
<text x="0" y="0" font-size="6.4" text-anchor="start" fill="#303030" stroke="#303030" stroke-width="0.18"  transform="translate(225.20,165.90) rotate(-45)">U937</text>
<text x="0" y="0" font-size="6.4" text-anchor="start" fill="#303030" stroke="#303030" stroke-width="0.18"  transform="translate(242.50,165.90) rotate(-45)">HL60</text>
<text x="0" y="0" font-size="6.4" text-anchor="start" fill="#303030" stroke="#303030" stroke-width="0.18"  transform="translate(260.60,165.90) rotate(-45)">THP-1</text>
<text x="0" y="0" font-size="6.4" text-anchor="start" fill="#303030" stroke="#303030" stroke-width="0.18"  transform="translate(277.30,165.90) rotate(-45)">Molm-13</text>
<text x="0" y="0" font-size="6.4" text-anchor="start" fill="#303030" stroke="#303030" stroke-width="0.18"  transform="translate(291.80,165.90) rotate(-45)">K562</text>
<text x="0" y="0" font-size="6.4" text-anchor="start" fill="#303030" stroke="#303030" stroke-width="0.18"  transform="translate(308.20,165.90) rotate(-45)">REH</text>
<text x="0" y="0" font-size="6.4" text-anchor="start" fill="#303030" stroke="#303030" stroke-width="0.18"  transform="translate(323.70,165.90) rotate(-45)">Namalwa</text>
<ellipse cx="212.70" cy="172.00" rx="5.25" ry="1.20" fill="#111" opacity="0.95" filter="url(#bl)"/>
<ellipse cx="228.00" cy="172.00" rx="4.00" ry="0.95" fill="#111" opacity="0.12" filter="url(#bl)"/>
<ellipse cx="244.30" cy="172.00" rx="4.00" ry="0.95" fill="#111" opacity="0.1" filter="url(#bl)"/>
<ellipse cx="259.20" cy="172.00" rx="4.00" ry="0.95" fill="#111" opacity="0.15" filter="url(#bl)"/>
<ellipse cx="273.40" cy="172.00" rx="4.00" ry="0.90" fill="#111" opacity="0.06" filter="url(#bl)"/>
<ellipse cx="289.60" cy="172.00" rx="4.50" ry="0.95" fill="#111" opacity="0.15" filter="url(#bl)"/>
<ellipse cx="304.80" cy="172.00" rx="5.00" ry="0.95" fill="#111" opacity="0.22" filter="url(#bl)"/>
<ellipse cx="321.90" cy="172.00" rx="2.50" ry="1.20" fill="#111" opacity="0.85" filter="url(#bl)"/>
<ellipse cx="212.70" cy="180.20" rx="6.00" ry="1.40" fill="#111" opacity="0.95" filter="url(#bl)"/>
<ellipse cx="228.00" cy="180.20" rx="5.00" ry="1.25" fill="#111" opacity="0.95" filter="url(#bl)"/>
<ellipse cx="244.30" cy="180.20" rx="5.50" ry="1.40" fill="#111" opacity="0.95" filter="url(#bl)"/>
<ellipse cx="259.20" cy="180.20" rx="5.25" ry="1.10" fill="#111" opacity="0.8" filter="url(#bl)"/>
<ellipse cx="273.40" cy="180.20" rx="6.00" ry="1.30" fill="#111" opacity="0.95" filter="url(#bl)"/>
<ellipse cx="289.60" cy="180.20" rx="5.75" ry="1.25" fill="#111" opacity="0.95" filter="url(#bl)"/>
<ellipse cx="304.80" cy="180.20" rx="5.50" ry="1.20" fill="#111" opacity="0.9" filter="url(#bl)"/>
<ellipse cx="319.90" cy="180.20" rx="5.75" ry="1.35" fill="#111" opacity="0.95" filter="url(#bl)"/>
<text x="157.80" y="201.50" font-size="11.74" font-weight="bold" fill="#000" textLength="6.20" lengthAdjust="spacingAndGlyphs">F</text>
<text x="171.45" y="219.00" font-size="7.6" fill="#303030" font-weight="normal" textLength="30.20" lengthAdjust="spacingAndGlyphs" >GADD45g</text>
<text x="178.55" y="229.30" font-size="7.6" fill="#303030" font-weight="normal" textLength="23.10" lengthAdjust="spacingAndGlyphs" >GAPDH</text>
<rect x="204.7" y="212.4" width="125.3" height="7.5" fill="#cfcfcf"/>
<rect x="204.7" y="222.2" width="125.3" height="8.6" fill="#d8d8d8"/>
<text x="0" y="0" font-size="6.5" text-anchor="start" fill="#303030" stroke="#303030" stroke-width="0.18"  transform="translate(208.50,210.40) rotate(-45)">BMMNC1</text>
<text x="0" y="0" font-size="6.5" text-anchor="start" fill="#303030" stroke="#303030" stroke-width="0.18"  transform="translate(225.40,210.40) rotate(-45)">BMMNC2</text>
<text x="0" y="0" font-size="6.5" text-anchor="start" fill="#303030" stroke="#303030" stroke-width="0.18"  transform="translate(242.80,210.40) rotate(-45)">BMMNC6</text>
<text x="0" y="0" font-size="6.5" text-anchor="start" fill="#303030" stroke="#303030" stroke-width="0.18"  transform="translate(261.00,210.40) rotate(-45)">BMMNC15</text>
<text x="0" y="0" font-size="6.5" text-anchor="start" fill="#303030" stroke="#303030" stroke-width="0.18"  transform="translate(276.90,210.40) rotate(-45)">BMMNC23</text>
<text x="0" y="0" font-size="6.5" text-anchor="start" fill="#303030" stroke="#303030" stroke-width="0.18"  transform="translate(292.40,210.40) rotate(-45)">AML5</text>
<text x="0" y="0" font-size="6.5" text-anchor="start" fill="#303030" stroke="#303030" stroke-width="0.18"  transform="translate(308.50,210.40) rotate(-45)">AML16</text>
<text x="0" y="0" font-size="6.5" text-anchor="start" fill="#303030" stroke="#303030" stroke-width="0.18"  transform="translate(324.70,210.40) rotate(-45)">AML27</text>
<ellipse cx="212.10" cy="216.10" rx="5.00" ry="1.10" fill="#111" opacity="0.85" filter="url(#bl)"/>
<ellipse cx="227.60" cy="216.10" rx="5.00" ry="1.10" fill="#111" opacity="0.85" filter="url(#bl)"/>
<ellipse cx="243.40" cy="216.10" rx="5.50" ry="1.30" fill="#111" opacity="0.95" filter="url(#bl)"/>
<ellipse cx="258.10" cy="216.10" rx="5.25" ry="1.20" fill="#111" opacity="0.9" filter="url(#bl)"/>
<ellipse cx="272.70" cy="216.10" rx="5.25" ry="1.20" fill="#111" opacity="0.95" filter="url(#bl)"/>
<ellipse cx="288.80" cy="216.10" rx="4.00" ry="0.90" fill="#111" opacity="0.08" filter="url(#bl)"/>
<ellipse cx="303.70" cy="216.10" rx="4.00" ry="0.90" fill="#111" opacity="0.1" filter="url(#bl)"/>
<ellipse cx="319.80" cy="216.10" rx="4.00" ry="0.90" fill="#111" opacity="0.04" filter="url(#bl)"/>
<ellipse cx="212.10" cy="226.80" rx="5.50" ry="1.40" fill="#111" opacity="0.95" filter="url(#bl)"/>
<ellipse cx="227.60" cy="226.80" rx="5.50" ry="1.40" fill="#111" opacity="0.95" filter="url(#bl)"/>
<ellipse cx="243.40" cy="226.80" rx="6.00" ry="1.80" fill="#111" opacity="1" filter="url(#bl)"/>
<ellipse cx="258.10" cy="226.80" rx="5.00" ry="1.10" fill="#111" opacity="0.85" filter="url(#bl)"/>
<ellipse cx="272.70" cy="226.80" rx="5.00" ry="1.20" fill="#111" opacity="0.85" filter="url(#bl)"/>
<ellipse cx="288.80" cy="226.80" rx="5.50" ry="1.35" fill="#111" opacity="0.95" filter="url(#bl)"/>
<ellipse cx="303.70" cy="226.80" rx="5.00" ry="1.25" fill="#111" opacity="0.9" filter="url(#bl)"/>
<ellipse cx="319.80" cy="226.80" rx="5.25" ry="1.45" fill="#111" opacity="0.95" filter="url(#bl)"/>
<text x="171.45" y="260.00" font-size="7.6" fill="#303030" font-weight="normal" textLength="30.20" lengthAdjust="spacingAndGlyphs" >GADD45g</text>
<text x="178.55" y="270.20" font-size="7.6" fill="#303030" font-weight="normal" textLength="23.10" lengthAdjust="spacingAndGlyphs" >GAPDH</text>
<rect x="203.0" y="252.5" width="128.3" height="7.8" fill="#d2d2d2"/>
<rect x="203.0" y="263.2" width="128.3" height="8.6" fill="#e2e2e2"/>
<text x="0" y="0" font-size="6.3" text-anchor="start" fill="#303030" stroke="#303030" stroke-width="0.18"  transform="translate(210.50,251.30) rotate(-45)">AML49</text>
<text x="0" y="0" font-size="6.3" text-anchor="start" fill="#303030" stroke="#303030" stroke-width="0.18"  transform="translate(226.70,251.30) rotate(-45)">AML8</text>
<text x="0" y="0" font-size="6.3" text-anchor="start" fill="#303030" stroke="#303030" stroke-width="0.18"  transform="translate(240.80,251.30) rotate(-45)">AML23</text>
<text x="0" y="0" font-size="6.3" text-anchor="start" fill="#303030" stroke="#303030" stroke-width="0.18"  transform="translate(259.00,251.30) rotate(-45)">AML68</text>
<text x="0" y="0" font-size="6.3" text-anchor="start" fill="#303030" stroke="#303030" stroke-width="0.18"  transform="translate(275.50,251.30) rotate(-45)">AML39</text>
<text x="0" y="0" font-size="6.3" text-anchor="start" fill="#303030" stroke="#303030" stroke-width="0.18"  transform="translate(291.00,251.30) rotate(-45)">AML12</text>
<text x="0" y="0" font-size="6.3" text-anchor="start" fill="#303030" stroke="#303030" stroke-width="0.18"  transform="translate(305.80,251.30) rotate(-45)">AML52</text>
<text x="0" y="0" font-size="6.3" text-anchor="start" fill="#303030" stroke="#303030" stroke-width="0.18"  transform="translate(321.30,251.30) rotate(-45)">AML17</text>
<ellipse cx="213.00" cy="256.60" rx="4.50" ry="1.05" fill="#111" opacity="0.75" filter="url(#bl)"/>
<ellipse cx="229.20" cy="256.60" rx="4.00" ry="1.00" fill="#111" opacity="0.6" filter="url(#bl)"/>
<ellipse cx="244.80" cy="256.60" rx="6.50" ry="1.60" fill="#111" opacity="1" filter="url(#bl)"/>
<ellipse cx="259.60" cy="256.60" rx="5.00" ry="1.20" fill="#111" opacity="0.8" filter="url(#bl)"/>
<ellipse cx="275.00" cy="256.60" rx="4.50" ry="0.95" fill="#111" opacity="0.3" filter="url(#bl)"/>
<ellipse cx="289.50" cy="256.60" rx="4.00" ry="0.95" fill="#111" opacity="0.4" filter="url(#bl)"/>
<ellipse cx="306.00" cy="256.60" rx="4.00" ry="0.90" fill="#111" opacity="0.05" filter="url(#bl)"/>
<ellipse cx="322.70" cy="256.60" rx="3.50" ry="0.95" fill="#111" opacity="0.45" filter="url(#bl)"/>
<ellipse cx="213.00" cy="267.40" rx="5.00" ry="1.15" fill="#111" opacity="0.85" filter="url(#bl)"/>
<ellipse cx="229.20" cy="267.40" rx="5.50" ry="1.25" fill="#111" opacity="0.85" filter="url(#bl)"/>
<ellipse cx="244.80" cy="267.40" rx="6.00" ry="1.45" fill="#111" opacity="0.95" filter="url(#bl)"/>
<ellipse cx="259.60" cy="267.40" rx="5.50" ry="1.30" fill="#111" opacity="0.9" filter="url(#bl)"/>
<ellipse cx="275.00" cy="267.40" rx="5.50" ry="1.30" fill="#111" opacity="0.9" filter="url(#bl)"/>
<ellipse cx="289.50" cy="267.40" rx="5.00" ry="1.25" fill="#111" opacity="0.85" filter="url(#bl)"/>
<ellipse cx="306.00" cy="267.40" rx="5.50" ry="1.35" fill="#111" opacity="0.95" filter="url(#bl)"/>
<ellipse cx="322.70" cy="267.40" rx="6.00" ry="1.80" fill="#111" opacity="1" filter="url(#bl)"/>
<text x="362.00" y="149.80" font-size="11.59" font-weight="bold" fill="#000" textLength="8.80" lengthAdjust="spacingAndGlyphs">G</text>
<text x="433.45" y="148.60" font-size="9.8" fill="#303030" font-weight="normal" textLength="39.70" lengthAdjust="spacingAndGlyphs" >GSE1159</text>
<line x1="396.30" y1="159.80" x2="396.30" y2="238.50" stroke="#262626" stroke-width="1.1" />
<line x1="393.30" y1="160.30" x2="396.30" y2="160.30" stroke="#262626" stroke-width="1.1" />
<text x="390.55" y="163.17" font-size="8.2" fill="#303030" text-anchor="end" textLength="8.11" lengthAdjust="spacingAndGlyphs">80</text>
<line x1="393.30" y1="175.90" x2="396.30" y2="175.90" stroke="#262626" stroke-width="1.1" />
<text x="390.55" y="178.77" font-size="8.2" fill="#303030" text-anchor="end" textLength="8.11" lengthAdjust="spacingAndGlyphs">60</text>
<line x1="393.30" y1="191.60" x2="396.30" y2="191.60" stroke="#262626" stroke-width="1.1" />
<text x="390.55" y="194.47" font-size="8.2" fill="#303030" text-anchor="end" textLength="8.11" lengthAdjust="spacingAndGlyphs">40</text>
<line x1="393.30" y1="207.20" x2="396.30" y2="207.20" stroke="#262626" stroke-width="1.1" />
<text x="390.55" y="210.07" font-size="8.2" fill="#303030" text-anchor="end" textLength="8.11" lengthAdjust="spacingAndGlyphs">20</text>
<line x1="393.30" y1="222.90" x2="396.30" y2="222.90" stroke="#262626" stroke-width="1.1" />
<text x="390.55" y="225.77" font-size="8.2" fill="#303030" text-anchor="end" textLength="4.00" lengthAdjust="spacingAndGlyphs">0</text>
<line x1="393.30" y1="238.50" x2="396.30" y2="238.50" stroke="#262626" stroke-width="1.1" />
<text x="390.55" y="241.37" font-size="8.2" fill="#303030" text-anchor="end" textLength="12.42" lengthAdjust="spacingAndGlyphs">−20</text>
<line x1="396.30" y1="238.50" x2="512.70" y2="238.50" stroke="#262626" stroke-width="1.1" />
<line x1="403.10" y1="238.50" x2="403.10" y2="241.50" stroke="#262626" stroke-width="1.1" />
<line x1="413.41" y1="238.50" x2="413.41" y2="241.50" stroke="#262626" stroke-width="1.1" />
<line x1="423.72" y1="238.50" x2="423.72" y2="241.50" stroke="#262626" stroke-width="1.1" />
<line x1="434.03" y1="238.50" x2="434.03" y2="241.50" stroke="#262626" stroke-width="1.1" />
<line x1="444.34" y1="238.50" x2="444.34" y2="241.50" stroke="#262626" stroke-width="1.1" />
<line x1="454.65" y1="238.50" x2="454.65" y2="241.50" stroke="#262626" stroke-width="1.1" />
<line x1="464.96" y1="238.50" x2="464.96" y2="241.50" stroke="#262626" stroke-width="1.1" />
<line x1="475.27" y1="238.50" x2="475.27" y2="241.50" stroke="#262626" stroke-width="1.1" />
<line x1="485.58" y1="238.50" x2="485.58" y2="241.50" stroke="#262626" stroke-width="1.1" />
<line x1="495.89" y1="238.50" x2="495.89" y2="241.50" stroke="#262626" stroke-width="1.1" />
<line x1="506.20" y1="238.50" x2="506.20" y2="241.50" stroke="#262626" stroke-width="1.1" />
<text x="0" y="0" font-size="7.5" text-anchor="end" fill="#303030" stroke="#303030" stroke-width="0.18"  transform="translate(403.00,248.60) rotate(-45)">NBM</text>
<text x="0" y="0" font-size="7.5" text-anchor="end" fill="#303030" stroke="#303030" stroke-width="0.18"  transform="translate(413.81,248.60) rotate(-45)">t(15;17)</text>
<text x="0" y="0" font-size="7.5" text-anchor="end" fill="#303030" stroke="#303030" stroke-width="0.18"  transform="translate(424.62,248.60) rotate(-45)">t(8;21)</text>
<text x="0" y="0" font-size="7.5" text-anchor="end" fill="#303030" stroke="#303030" stroke-width="0.18"  transform="translate(435.43,248.60) rotate(-45)">inv(16)</text>
<text x="0" y="0" font-size="7.5" text-anchor="end" fill="#303030" stroke="#303030" stroke-width="0.18"  transform="translate(446.24,248.60) rotate(-45)">t(6;9)</text>
<text x="0" y="0" font-size="7.5" text-anchor="end" fill="#303030" stroke="#303030" stroke-width="0.18"  transform="translate(457.05,248.60) rotate(-45)">t(9;22)</text>
<text x="0" y="0" font-size="7.5" text-anchor="end" fill="#303030" stroke="#303030" stroke-width="0.18"  transform="translate(467.86,248.60) rotate(-45)">11q23</text>
<text x="0" y="0" font-size="7.5" text-anchor="end" fill="#303030" stroke="#303030" stroke-width="0.18"  transform="translate(478.67,248.60) rotate(-45)">−7</text>
<text x="0" y="0" font-size="7.5" text-anchor="end" fill="#303030" stroke="#303030" stroke-width="0.18"  transform="translate(489.48,248.60) rotate(-45)">CK</text>
<text x="0" y="0" font-size="7.5" text-anchor="end" fill="#303030" stroke="#303030" stroke-width="0.18"  transform="translate(500.29,248.60) rotate(-45)">Other</text>
<text x="0" y="0" font-size="7.5" text-anchor="end" fill="#303030" stroke="#303030" stroke-width="0.18"  transform="translate(511.10,248.60) rotate(-45)">NK</text>
<text x="0" y="0" font-size="8.7" text-anchor="middle" fill="#303030" textLength="75.00" lengthAdjust="spacingAndGlyphs" transform="translate(375.60,202.00) rotate(-90)">GADD45g expression</text>
<line x1="396.30" y1="222.70" x2="512.70" y2="222.70" stroke="#262626" stroke-width="1.0" stroke-dasharray="1.1 0.75"/>
<path d="M402.50,161.70 L402.50,158.10 L505.30,158.10 L505.30,161.70" fill="none" stroke="#262626" stroke-width="1.1"/>
<line x1="458.10" y1="155.05" x2="458.10" y2="157.35" stroke="#262626" stroke-width="0.75" />
<line x1="457.10" y1="155.62" x2="459.10" y2="156.77" stroke="#262626" stroke-width="0.75" />
<line x1="459.10" y1="155.62" x2="457.10" y2="156.77" stroke="#262626" stroke-width="0.75" />
<line x1="461.10" y1="155.05" x2="461.10" y2="157.35" stroke="#262626" stroke-width="0.75" />
<line x1="460.10" y1="155.62" x2="462.10" y2="156.77" stroke="#262626" stroke-width="0.75" />
<line x1="462.10" y1="155.62" x2="460.10" y2="156.77" stroke="#262626" stroke-width="0.75" />
<path d="M402.50,165.60 L402.50,162.00 L494.70,162.00 L494.70,165.60" fill="none" stroke="#262626" stroke-width="1.1"/>
<line x1="453.20" y1="158.95" x2="453.20" y2="161.25" stroke="#262626" stroke-width="0.75" />
<line x1="452.20" y1="159.53" x2="454.20" y2="160.67" stroke="#262626" stroke-width="0.75" />
<line x1="454.20" y1="159.53" x2="452.20" y2="160.67" stroke="#262626" stroke-width="0.75" />
<path d="M402.50,173.20 L402.50,169.60 L465.40,169.60 L465.40,173.20" fill="none" stroke="#262626" stroke-width="1.1"/>
<line x1="435.00" y1="166.55" x2="435.00" y2="168.85" stroke="#262626" stroke-width="0.75" />
<line x1="434.00" y1="167.12" x2="436.00" y2="168.27" stroke="#262626" stroke-width="0.75" />
<line x1="436.00" y1="167.12" x2="434.00" y2="168.27" stroke="#262626" stroke-width="0.75" />
<line x1="438.00" y1="166.55" x2="438.00" y2="168.85" stroke="#262626" stroke-width="0.75" />
<line x1="437.00" y1="167.12" x2="439.00" y2="168.27" stroke="#262626" stroke-width="0.75" />
<line x1="439.00" y1="167.12" x2="437.00" y2="168.27" stroke="#262626" stroke-width="0.75" />
<path d="M402.50,177.40 L402.50,173.80 L441.80,173.80 L441.80,177.40" fill="none" stroke="#262626" stroke-width="1.1"/>
<line x1="422.30" y1="170.75" x2="422.30" y2="173.05" stroke="#262626" stroke-width="0.75" />
<line x1="421.30" y1="171.33" x2="423.30" y2="172.47" stroke="#262626" stroke-width="0.75" />
<line x1="423.30" y1="171.33" x2="421.30" y2="172.47" stroke="#262626" stroke-width="0.75" />
<line x1="425.30" y1="170.75" x2="425.30" y2="173.05" stroke="#262626" stroke-width="0.75" />
<line x1="424.30" y1="171.33" x2="426.30" y2="172.47" stroke="#262626" stroke-width="0.75" />
<line x1="426.30" y1="171.33" x2="424.30" y2="172.47" stroke="#262626" stroke-width="0.75" />
<path d="M402.50,181.80 L402.50,178.20 L432.40,178.20 L432.40,181.80" fill="none" stroke="#262626" stroke-width="1.1"/>
<line x1="415.00" y1="175.15" x2="415.00" y2="177.45" stroke="#262626" stroke-width="0.75" />
<line x1="414.00" y1="175.72" x2="416.00" y2="176.87" stroke="#262626" stroke-width="0.75" />
<line x1="416.00" y1="175.72" x2="414.00" y2="176.87" stroke="#262626" stroke-width="0.75" />
<line x1="418.00" y1="175.15" x2="418.00" y2="177.45" stroke="#262626" stroke-width="0.75" />
<line x1="417.00" y1="175.72" x2="419.00" y2="176.87" stroke="#262626" stroke-width="0.75" />
<line x1="419.00" y1="175.72" x2="417.00" y2="176.87" stroke="#262626" stroke-width="0.75" />
<line x1="421.00" y1="175.15" x2="421.00" y2="177.45" stroke="#262626" stroke-width="0.75" />
<line x1="420.00" y1="175.72" x2="422.00" y2="176.87" stroke="#262626" stroke-width="0.75" />
<line x1="422.00" y1="175.72" x2="420.00" y2="176.87" stroke="#262626" stroke-width="0.75" />
<path d="M402.50,185.90 L402.50,182.30 L423.20,182.30 L423.20,185.90" fill="none" stroke="#262626" stroke-width="1.1"/>
<line x1="410.80" y1="179.25" x2="410.80" y2="181.55" stroke="#262626" stroke-width="0.75" />
<line x1="409.80" y1="179.83" x2="411.80" y2="180.97" stroke="#262626" stroke-width="0.75" />
<line x1="411.80" y1="179.83" x2="409.80" y2="180.97" stroke="#262626" stroke-width="0.75" />
<line x1="413.80" y1="179.25" x2="413.80" y2="181.55" stroke="#262626" stroke-width="0.75" />
<line x1="412.80" y1="179.83" x2="414.80" y2="180.97" stroke="#262626" stroke-width="0.75" />
<line x1="414.80" y1="179.83" x2="412.80" y2="180.97" stroke="#262626" stroke-width="0.75" />
<line x1="398.90" y1="207.30" x2="407.00" y2="207.30" stroke="#333" stroke-width="1.1" />
<line x1="402.90" y1="197.50" x2="402.90" y2="214.60" stroke="#555" stroke-width="1.1" />
<line x1="401.20" y1="197.50" x2="405.00" y2="197.50" stroke="#555" stroke-width="1.1" />
<line x1="401.20" y1="214.60" x2="405.00" y2="214.60" stroke="#555" stroke-width="1.1" />
<circle cx="402.90" cy="191.20" r="1.2" fill="#10528a"/>
<circle cx="400.00" cy="201.90" r="1.2" fill="#10528a"/>
<circle cx="402.90" cy="201.30" r="1.2" fill="#10528a"/>
<circle cx="399.50" cy="207.10" r="1.2" fill="#10528a"/>
<circle cx="401.20" cy="207.10" r="1.2" fill="#10528a"/>
<circle cx="402.90" cy="207.10" r="1.2" fill="#10528a"/>
<circle cx="404.70" cy="207.70" r="1.2" fill="#10528a"/>
<circle cx="406.20" cy="207.50" r="1.2" fill="#10528a"/>
<circle cx="402.90" cy="211.70" r="1.2" fill="#10528a"/>
<circle cx="402.90" cy="214.60" r="1.2" fill="#10528a"/>
<circle cx="402.90" cy="221.00" r="1.2" fill="#10528a"/>
<circle cx="413.30" cy="166.50" r="1.15" fill="#4f1873"/>
<path d="M411.85,197.34 L414.75,197.34 L413.30,199.81Z" fill="#4f1873"/>
<path d="M411.85,206.54 L414.75,206.54 L413.30,209.00Z" fill="#4f1873"/>
<path d="M411.85,208.84 L414.75,208.84 L413.30,211.31Z" fill="#4f1873"/>
<path d="M411.85,211.14 L414.75,211.14 L413.30,213.61Z" fill="#4f1873"/>
<path d="M411.85,214.64 L414.75,214.64 L413.30,217.11Z" fill="#4f1873"/>
<path d="M411.85,216.84 L414.75,216.84 L413.30,219.31Z" fill="#4f1873"/>
<path d="M413.30,219.21 L416.20,219.21 L414.75,221.67Z" fill="#4f1873"/>
<path d="M414.72,219.89 L417.62,219.89 L416.17,222.36Z" fill="#4f1873"/>
<path d="M414.53,219.68 L417.43,219.68 L415.98,222.15Z" fill="#4f1873"/>
<path d="M411.73,215.53 L414.63,215.53 L413.18,218.00Z" fill="#4f1873"/>
<path d="M412.87,220.44 L415.77,220.44 L414.32,222.91Z" fill="#4f1873"/>
<path d="M409.24,220.29 L412.14,220.29 L410.69,222.75Z" fill="#4f1873"/>
<path d="M410.45,218.52 L413.35,218.52 L411.90,220.99Z" fill="#4f1873"/>
<path d="M412.28,218.86 L415.18,218.86 L413.73,221.33Z" fill="#4f1873"/>
<path d="M410.92,215.27 L413.82,215.27 L412.37,217.74Z" fill="#4f1873"/>
<path d="M413.87,217.54 L416.77,217.54 L415.32,220.00Z" fill="#4f1873"/>
<path d="M409.67,219.78 L412.57,219.78 L411.12,222.25Z" fill="#4f1873"/>
<path d="M409.51,219.90 L412.41,219.90 L410.96,222.37Z" fill="#4f1873"/>
<path d="M409.61,219.18 L412.51,219.18 L411.06,221.65Z" fill="#4f1873"/>
<path d="M413.00,214.97 L415.90,214.97 L414.45,217.43Z" fill="#4f1873"/>
<path d="M410.55,217.11 L413.45,217.11 L412.00,219.58Z" fill="#4f1873"/>
<path d="M414.44,220.58 L417.34,220.58 L415.89,223.04Z" fill="#4f1873"/>
<path d="M414.11,217.60 L417.01,217.60 L415.56,220.06Z" fill="#4f1873"/>
<path d="M412.87,218.84 L415.77,218.84 L414.32,221.31Z" fill="#4f1873"/>
<line x1="409.80" y1="213.50" x2="416.80" y2="213.50" stroke="#333" stroke-width="1.1" />
<line x1="413.30" y1="199.60" x2="413.30" y2="226.20" stroke="#444" stroke-width="1.1" />
<line x1="411.30" y1="199.60" x2="415.30" y2="199.60" stroke="#444" stroke-width="1.1" />
<line x1="411.30" y1="226.20" x2="415.30" y2="226.20" stroke="#444" stroke-width="1.1" />
<circle cx="423.30" cy="185.80" r="1.15" fill="#4f1873"/>
<path d="M423.96,214.01 L426.86,214.01 L425.41,216.48Z" fill="#4f1873"/>
<path d="M424.97,218.49 L427.87,218.49 L426.42,220.95Z" fill="#4f1873"/>
<path d="M420.38,219.94 L423.28,219.94 L421.83,222.40Z" fill="#4f1873"/>
<path d="M420.01,215.70 L422.91,215.70 L421.46,218.17Z" fill="#4f1873"/>
<path d="M419.92,213.24 L422.82,213.24 L421.37,215.71Z" fill="#4f1873"/>
<path d="M422.39,215.10 L425.29,215.10 L423.84,217.56Z" fill="#4f1873"/>
<path d="M422.41,210.20 L425.31,210.20 L423.86,212.66Z" fill="#4f1873"/>
<path d="M420.82,215.47 L423.72,215.47 L422.27,217.94Z" fill="#4f1873"/>
<path d="M421.71,219.42 L424.61,219.42 L423.16,221.88Z" fill="#4f1873"/>
<path d="M421.75,215.25 L424.65,215.25 L423.20,217.71Z" fill="#4f1873"/>
<path d="M418.87,218.59 L421.77,218.59 L420.32,221.06Z" fill="#4f1873"/>
<path d="M418.26,220.48 L421.16,220.48 L419.71,222.94Z" fill="#4f1873"/>
<path d="M424.22,218.93 L427.12,218.93 L425.67,221.39Z" fill="#4f1873"/>
<path d="M422.83,210.81 L425.73,210.81 L424.28,213.28Z" fill="#4f1873"/>
<path d="M422.28,215.75 L425.18,215.75 L423.73,218.22Z" fill="#4f1873"/>
<path d="M420.37,210.48 L423.27,210.48 L421.82,212.95Z" fill="#4f1873"/>
<path d="M423.97,213.71 L426.87,213.71 L425.42,216.18Z" fill="#4f1873"/>
<path d="M423.06,213.91 L425.96,213.91 L424.51,216.37Z" fill="#4f1873"/>
<path d="M425.12,220.18 L428.02,220.18 L426.57,222.64Z" fill="#4f1873"/>
<path d="M421.06,215.54 L423.96,215.54 L422.51,218.00Z" fill="#4f1873"/>
<path d="M423.54,217.17 L426.44,217.17 L424.99,219.64Z" fill="#4f1873"/>
<path d="M422.90,212.68 L425.80,212.68 L424.35,215.15Z" fill="#4f1873"/>
<path d="M424.37,219.27 L427.27,219.27 L425.82,221.73Z" fill="#4f1873"/>
<path d="M423.47,211.33 L426.37,211.33 L424.92,213.79Z" fill="#4f1873"/>
<path d="M421.20,212.41 L424.10,212.41 L422.65,214.87Z" fill="#4f1873"/>
<path d="M424.54,217.87 L427.44,217.87 L425.99,220.34Z" fill="#4f1873"/>
<line x1="419.80" y1="218.10" x2="426.80" y2="218.10" stroke="#333" stroke-width="1.1" />
<line x1="423.30" y1="211.20" x2="423.30" y2="225.60" stroke="#444" stroke-width="1.1" />
<line x1="421.30" y1="211.20" x2="425.30" y2="211.20" stroke="#444" stroke-width="1.1" />
<line x1="421.30" y1="225.60" x2="425.30" y2="225.60" stroke="#444" stroke-width="1.1" />
<path d="M432.05,215.56 L434.95,215.56 L433.50,213.09Z" fill="#4f1873"/>
<path d="M434.55,220.91 L437.45,220.91 L436.00,218.45Z" fill="#4f1873"/>
<path d="M430.83,221.65 L433.73,221.65 L432.28,219.18Z" fill="#4f1873"/>
<path d="M430.18,220.82 L433.08,220.82 L431.63,218.35Z" fill="#4f1873"/>
<path d="M430.37,219.59 L433.27,219.59 L431.82,217.13Z" fill="#4f1873"/>
<path d="M435.47,222.10 L438.37,222.10 L436.92,219.63Z" fill="#4f1873"/>
<path d="M429.70,220.10 L432.60,220.10 L431.15,217.64Z" fill="#4f1873"/>
<path d="M432.30,222.93 L435.20,222.93 L433.75,220.46Z" fill="#4f1873"/>
<path d="M430.45,221.16 L433.35,221.16 L431.90,218.70Z" fill="#4f1873"/>
<path d="M434.21,221.81 L437.11,221.81 L435.66,219.34Z" fill="#4f1873"/>
<path d="M431.56,221.34 L434.46,221.34 L433.01,218.88Z" fill="#4f1873"/>
<path d="M433.98,219.42 L436.88,219.42 L435.43,216.96Z" fill="#4f1873"/>
<path d="M432.02,219.21 L434.92,219.21 L433.47,216.75Z" fill="#4f1873"/>
<path d="M429.38,222.53 L432.28,222.53 L430.83,220.06Z" fill="#4f1873"/>
<path d="M435.19,222.22 L438.09,222.22 L436.64,219.76Z" fill="#4f1873"/>
<circle cx="445.85" cy="221.49" r="1.15" fill="#4f1873"/>
<circle cx="443.49" cy="220.84" r="1.15" fill="#4f1873"/>
<circle cx="446.08" cy="220.92" r="1.15" fill="#4f1873"/>
<circle cx="443.60" cy="221.12" r="1.15" fill="#4f1873"/>
<circle cx="446.37" cy="221.80" r="1.15" fill="#4f1873"/>
<circle cx="443.58" cy="221.78" r="1.15" fill="#4f1873"/>
<circle cx="445.43" cy="221.35" r="1.15" fill="#4f1873"/>
<circle cx="442.51" cy="221.34" r="1.15" fill="#4f1873"/>
<path d="M452.65,210.84 L455.55,210.84 L454.10,213.31Z" fill="#4f1873"/>
<path d="M452.65,212.44 L455.55,212.44 L454.10,214.91Z" fill="#4f1873"/>
<path d="M452.65,219.44 L455.55,219.44 L454.10,221.91Z" fill="#4f1873"/>
<line x1="450.80" y1="217.40" x2="457.40" y2="217.40" stroke="#333" stroke-width="1.1" />
<line x1="454.10" y1="211.50" x2="454.10" y2="222.80" stroke="#444" stroke-width="1.1" />
<line x1="452.10" y1="211.50" x2="456.10" y2="211.50" stroke="#444" stroke-width="1.1" />
<line x1="452.10" y1="222.80" x2="456.10" y2="222.80" stroke="#444" stroke-width="1.1" />
<circle cx="464.60" cy="209.80" r="1.15" fill="#4f1873"/>
<circle cx="463.90" cy="211.10" r="1.15" fill="#4f1873"/>
<circle cx="462.02" cy="218.74" r="1.15" fill="#4f1873"/>
<circle cx="466.45" cy="218.57" r="1.15" fill="#4f1873"/>
<circle cx="464.78" cy="221.62" r="1.15" fill="#4f1873"/>
<circle cx="462.99" cy="219.31" r="1.15" fill="#4f1873"/>
<circle cx="463.00" cy="216.21" r="1.15" fill="#4f1873"/>
<circle cx="466.27" cy="220.80" r="1.15" fill="#4f1873"/>
<circle cx="465.38" cy="218.46" r="1.15" fill="#4f1873"/>
<circle cx="465.15" cy="220.76" r="1.15" fill="#4f1873"/>
<circle cx="465.49" cy="220.21" r="1.15" fill="#4f1873"/>
<circle cx="464.96" cy="218.48" r="1.15" fill="#4f1873"/>
<circle cx="463.83" cy="217.91" r="1.15" fill="#4f1873"/>
<circle cx="465.13" cy="220.74" r="1.15" fill="#4f1873"/>
<circle cx="466.09" cy="218.00" r="1.15" fill="#4f1873"/>
<circle cx="464.39" cy="220.14" r="1.15" fill="#4f1873"/>
<circle cx="464.05" cy="215.00" r="1.15" fill="#4f1873"/>
<circle cx="464.71" cy="217.68" r="1.15" fill="#4f1873"/>
<circle cx="465.65" cy="219.10" r="1.15" fill="#4f1873"/>
<circle cx="465.71" cy="220.12" r="1.15" fill="#4f1873"/>
<circle cx="474.90" cy="183.20" r="1.15" fill="#4f1873"/>
<circle cx="474.90" cy="194.60" r="1.15" fill="#4f1873"/>
<path d="M470.55,211.54 L473.45,211.54 L472.00,214.00Z" fill="#4f1873"/>
<path d="M473.45,211.54 L476.35,211.54 L474.90,214.00Z" fill="#4f1873"/>
<path d="M476.05,211.54 L478.95,211.54 L477.50,214.00Z" fill="#4f1873"/>
<path d="M473.45,215.64 L476.35,215.64 L474.90,218.11Z" fill="#4f1873"/>
<path d="M470.55,218.84 L473.45,218.84 L472.00,221.31Z" fill="#4f1873"/>
<path d="M475.55,218.84 L478.45,218.84 L477.00,221.31Z" fill="#4f1873"/>
<path d="M473.45,220.34 L476.35,220.34 L474.90,222.81Z" fill="#4f1873"/>
<line x1="471.40" y1="212.70" x2="478.40" y2="212.70" stroke="#333" stroke-width="1.1" />
<line x1="474.90" y1="199.30" x2="474.90" y2="225.40" stroke="#444" stroke-width="1.1" />
<line x1="472.80" y1="199.30" x2="477.00" y2="199.30" stroke="#444" stroke-width="1.1" />
<line x1="472.80" y1="225.40" x2="477.00" y2="225.40" stroke="#444" stroke-width="1.1" />
<path d="M483.95,193.86 L486.85,193.86 L485.40,191.39Z" fill="#4f1873"/>
<path d="M483.95,199.56 L486.85,199.56 L485.40,197.09Z" fill="#4f1873"/>
<path d="M481.55,202.76 L484.45,202.76 L483.00,200.29Z" fill="#4f1873"/>
<path d="M486.05,201.66 L488.95,201.66 L487.50,199.19Z" fill="#4f1873"/>
<path d="M483.95,207.16 L486.85,207.16 L485.40,204.69Z" fill="#4f1873"/>
<path d="M480.55,219.16 L483.45,219.16 L482.00,216.69Z" fill="#4f1873"/>
<path d="M483.95,219.16 L486.85,219.16 L485.40,216.69Z" fill="#4f1873"/>
<path d="M487.55,219.16 L490.45,219.16 L489.00,216.69Z" fill="#4f1873"/>
<path d="M482.55,221.66 L485.45,221.66 L484.00,219.19Z" fill="#4f1873"/>
<path d="M485.55,221.66 L488.45,221.66 L487.00,219.19Z" fill="#4f1873"/>
<line x1="481.90" y1="210.20" x2="488.90" y2="210.20" stroke="#333" stroke-width="1.1" />
<line x1="485.40" y1="199.30" x2="485.40" y2="218.10" stroke="#444" stroke-width="1.1" />
<line x1="483.40" y1="199.30" x2="487.40" y2="199.30" stroke="#444" stroke-width="1.1" />
<line x1="483.40" y1="218.10" x2="487.40" y2="218.10" stroke="#444" stroke-width="1.1" />
<path d="M492.05,204.24 L494.95,204.24 L493.50,206.71Z" fill="#4f1873"/>
<path d="M496.05,204.24 L498.95,204.24 L497.50,206.71Z" fill="#4f1873"/>
<path d="M494.15,206.34 L497.05,206.34 L495.60,208.81Z" fill="#4f1873"/>
<path d="M491.55,207.84 L494.45,207.84 L493.00,210.31Z" fill="#4f1873"/>
<path d="M496.55,207.84 L499.45,207.84 L498.00,210.31Z" fill="#4f1873"/>
<path d="M495.07,215.10 L497.97,215.10 L496.52,217.57Z" fill="#4f1873"/>
<path d="M496.50,218.67 L499.40,218.67 L497.95,221.14Z" fill="#4f1873"/>
<path d="M496.34,215.13 L499.24,215.13 L497.79,217.59Z" fill="#4f1873"/>
<path d="M495.54,219.69 L498.44,219.69 L496.99,222.16Z" fill="#4f1873"/>
<path d="M497.60,220.47 L500.50,220.47 L499.05,222.94Z" fill="#4f1873"/>
<path d="M494.35,216.79 L497.25,216.79 L495.80,219.26Z" fill="#4f1873"/>
<path d="M496.13,212.86 L499.03,212.86 L497.58,215.32Z" fill="#4f1873"/>
<path d="M493.98,220.19 L496.88,220.19 L495.43,222.66Z" fill="#4f1873"/>
<path d="M495.71,218.30 L498.61,218.30 L497.16,220.76Z" fill="#4f1873"/>
<path d="M491.80,218.61 L494.70,218.61 L493.25,221.08Z" fill="#4f1873"/>
<path d="M494.74,219.01 L497.64,219.01 L496.19,221.47Z" fill="#4f1873"/>
<path d="M493.59,218.08 L496.49,218.08 L495.04,220.55Z" fill="#4f1873"/>
<path d="M496.06,217.73 L498.96,217.73 L497.51,220.19Z" fill="#4f1873"/>
<path d="M495.69,217.84 L498.59,217.84 L497.14,220.31Z" fill="#4f1873"/>
<path d="M492.35,210.21 L495.25,210.21 L493.80,212.67Z" fill="#4f1873"/>
<path d="M495.14,216.06 L498.04,216.06 L496.59,218.53Z" fill="#4f1873"/>
<path d="M495.27,213.58 L498.17,213.58 L496.72,216.05Z" fill="#4f1873"/>
<path d="M490.96,217.79 L493.86,217.79 L492.41,220.26Z" fill="#4f1873"/>
<path d="M492.33,216.36 L495.23,216.36 L493.78,218.82Z" fill="#4f1873"/>
<path d="M492.15,210.89 L495.05,210.89 L493.60,213.36Z" fill="#4f1873"/>
<path d="M492.14,214.77 L495.04,214.77 L493.59,217.23Z" fill="#4f1873"/>
<path d="M491.38,213.24 L494.28,213.24 L492.83,215.71Z" fill="#4f1873"/>
<path d="M493.35,216.30 L496.25,216.30 L494.80,218.76Z" fill="#4f1873"/>
<path d="M494.78,217.63 L497.68,217.63 L496.23,220.09Z" fill="#4f1873"/>
<path d="M496.61,213.82 L499.51,213.82 L498.06,216.29Z" fill="#4f1873"/>
<path d="M493.67,208.99 L496.57,208.99 L495.12,211.45Z" fill="#4f1873"/>
<path d="M493.59,214.32 L496.49,214.32 L495.04,216.79Z" fill="#4f1873"/>
<path d="M496.04,212.06 L498.94,212.06 L497.49,214.53Z" fill="#4f1873"/>
<path d="M491.16,215.38 L494.06,215.38 L492.61,217.84Z" fill="#4f1873"/>
<path d="M491.34,217.64 L494.24,217.64 L492.79,220.11Z" fill="#4f1873"/>
<circle cx="505.70" cy="179.50" r="1.15" fill="#4f1873"/>
<circle cx="505.70" cy="186.90" r="1.15" fill="#4f1873"/>
<circle cx="505.70" cy="194.60" r="1.15" fill="#4f1873"/>
<circle cx="505.70" cy="199.00" r="1.15" fill="#4f1873"/>
<circle cx="505.70" cy="204.70" r="1.15" fill="#4f1873"/>
<circle cx="505.20" cy="212.80" r="1.15" fill="#4f1873"/>
<circle cx="507.15" cy="213.08" r="1.15" fill="#4f1873"/>
<circle cx="505.42" cy="214.81" r="1.15" fill="#4f1873"/>
<circle cx="506.19" cy="214.77" r="1.15" fill="#4f1873"/>
<circle cx="504.67" cy="211.28" r="1.15" fill="#4f1873"/>
<circle cx="505.90" cy="213.20" r="1.15" fill="#4f1873"/>
<circle cx="507.37" cy="215.73" r="1.15" fill="#4f1873"/>
<circle cx="505.23" cy="213.29" r="1.15" fill="#4f1873"/>
<circle cx="503.96" cy="215.31" r="1.15" fill="#4f1873"/>
<circle cx="505.86" cy="208.26" r="1.15" fill="#4f1873"/>
<circle cx="504.55" cy="213.34" r="1.15" fill="#4f1873"/>
<circle cx="506.96" cy="213.45" r="1.15" fill="#4f1873"/>
<circle cx="505.50" cy="211.34" r="1.15" fill="#4f1873"/>
<circle cx="505.15" cy="209.81" r="1.15" fill="#4f1873"/>
<circle cx="505.27" cy="215.83" r="1.15" fill="#4f1873"/>
<circle cx="507.17" cy="215.75" r="1.15" fill="#4f1873"/>
<circle cx="504.94" cy="213.20" r="1.15" fill="#4f1873"/>
<circle cx="505.69" cy="215.88" r="1.15" fill="#4f1873"/>
<circle cx="505.17" cy="211.70" r="1.15" fill="#4f1873"/>
<circle cx="505.67" cy="215.90" r="1.15" fill="#4f1873"/>
<circle cx="505.64" cy="210.46" r="1.15" fill="#4f1873"/>
<circle cx="506.00" cy="208.47" r="1.15" fill="#4f1873"/>
<circle cx="504.23" cy="220.17" r="1.15" fill="#4f1873"/>
<circle cx="508.29" cy="221.87" r="1.15" fill="#4f1873"/>
<circle cx="505.87" cy="216.51" r="1.15" fill="#4f1873"/>
<circle cx="508.56" cy="219.13" r="1.15" fill="#4f1873"/>
<circle cx="503.68" cy="221.87" r="1.15" fill="#4f1873"/>
<circle cx="503.44" cy="219.08" r="1.15" fill="#4f1873"/>
<circle cx="503.97" cy="222.75" r="1.15" fill="#4f1873"/>
<circle cx="505.51" cy="221.05" r="1.15" fill="#4f1873"/>
<circle cx="506.49" cy="221.23" r="1.15" fill="#4f1873"/>
<circle cx="502.70" cy="221.69" r="1.15" fill="#4f1873"/>
<circle cx="504.13" cy="221.77" r="1.15" fill="#4f1873"/>
<circle cx="504.50" cy="220.66" r="1.15" fill="#4f1873"/>
<circle cx="505.90" cy="219.28" r="1.15" fill="#4f1873"/>
<circle cx="504.71" cy="220.29" r="1.15" fill="#4f1873"/>
<circle cx="506.41" cy="221.70" r="1.15" fill="#4f1873"/>
<circle cx="504.35" cy="216.93" r="1.15" fill="#4f1873"/>
<circle cx="508.67" cy="220.24" r="1.15" fill="#4f1873"/>
<circle cx="506.07" cy="222.33" r="1.15" fill="#4f1873"/>
<circle cx="507.17" cy="216.54" r="1.15" fill="#4f1873"/>
<circle cx="506.23" cy="220.09" r="1.15" fill="#4f1873"/>
<circle cx="506.73" cy="221.53" r="1.15" fill="#4f1873"/>
<circle cx="508.66" cy="220.39" r="1.15" fill="#4f1873"/>
<circle cx="504.95" cy="219.84" r="1.15" fill="#4f1873"/>
<circle cx="503.24" cy="222.18" r="1.15" fill="#4f1873"/>
<circle cx="507.89" cy="219.28" r="1.15" fill="#4f1873"/>
<circle cx="507.61" cy="217.33" r="1.15" fill="#4f1873"/>
<circle cx="505.18" cy="221.46" r="1.15" fill="#4f1873"/>
<circle cx="507.55" cy="219.21" r="1.15" fill="#4f1873"/>
<circle cx="502.76" cy="222.43" r="1.15" fill="#4f1873"/>
<circle cx="506.05" cy="220.37" r="1.15" fill="#4f1873"/>
<circle cx="504.48" cy="220.47" r="1.15" fill="#4f1873"/>
<circle cx="506.22" cy="218.21" r="1.15" fill="#4f1873"/>
<circle cx="502.25" cy="222.00" r="1.15" fill="#4f1873"/>
<circle cx="507.75" cy="218.82" r="1.15" fill="#4f1873"/>
<circle cx="507.00" cy="221.91" r="1.15" fill="#4f1873"/>
<circle cx="506.90" cy="216.75" r="1.15" fill="#4f1873"/>
<circle cx="509.86" cy="222.71" r="1.15" fill="#4f1873"/>
<circle cx="502.20" cy="221.50" r="1.15" fill="#4f1873"/>
<circle cx="503.44" cy="222.13" r="1.15" fill="#4f1873"/>
<circle cx="509.14" cy="221.23" r="1.15" fill="#4f1873"/>
<circle cx="502.86" cy="221.55" r="1.15" fill="#4f1873"/>
<circle cx="508.47" cy="219.25" r="1.15" fill="#4f1873"/>
<circle cx="506.37" cy="218.18" r="1.15" fill="#4f1873"/>
<circle cx="503.33" cy="220.01" r="1.15" fill="#4f1873"/>
<circle cx="502.25" cy="221.12" r="1.15" fill="#4f1873"/>
<line x1="502.50" y1="210.50" x2="509.00" y2="210.50" stroke="#333" stroke-width="0.9" />
<line x1="502.00" y1="217.40" x2="509.50" y2="217.40" stroke="#333" stroke-width="0.9" />
<line x1="461.70" y1="215.30" x2="466.30" y2="215.30" stroke="#333" stroke-width="0.9" />
<line x1="492.60" y1="216.00" x2="498.60" y2="216.00" stroke="#333" stroke-width="0.9" />
<text x="5.70" y="300.40" font-size="11.74" font-weight="bold" fill="#000" textLength="8.70" lengthAdjust="spacingAndGlyphs">H</text>
<text x="82.75" y="299.00" font-size="9.8" fill="#303030" font-weight="normal" textLength="39.50" lengthAdjust="spacingAndGlyphs" >GSE1159</text>
<line x1="43.40" y1="314.00" x2="43.40" y2="387.40" stroke="#262626" stroke-width="1.1" />
<line x1="40.40" y1="314.50" x2="43.40" y2="314.50" stroke="#262626" stroke-width="1.1" />
<text x="37.65" y="317.37" font-size="8.2" fill="#303030" text-anchor="end" textLength="8.11" lengthAdjust="spacingAndGlyphs">90</text>
<line x1="40.40" y1="338.90" x2="43.40" y2="338.90" stroke="#262626" stroke-width="1.1" />
<text x="37.65" y="341.77" font-size="8.2" fill="#303030" text-anchor="end" textLength="8.11" lengthAdjust="spacingAndGlyphs">60</text>
<line x1="40.40" y1="363.10" x2="43.40" y2="363.10" stroke="#262626" stroke-width="1.1" />
<text x="37.65" y="365.97" font-size="8.2" fill="#303030" text-anchor="end" textLength="8.11" lengthAdjust="spacingAndGlyphs">30</text>
<line x1="40.40" y1="387.40" x2="43.40" y2="387.40" stroke="#262626" stroke-width="1.1" />
<text x="37.65" y="390.27" font-size="8.2" fill="#303030" text-anchor="end" textLength="4.00" lengthAdjust="spacingAndGlyphs">0</text>
<line x1="43.40" y1="387.40" x2="163.00" y2="387.40" stroke="#262626" stroke-width="1.1" />
<line x1="55.30" y1="387.40" x2="55.30" y2="390.40" stroke="#262626" stroke-width="1.1" />
<line x1="78.50" y1="387.40" x2="78.50" y2="390.40" stroke="#262626" stroke-width="1.1" />
<line x1="101.50" y1="387.40" x2="101.50" y2="390.40" stroke="#262626" stroke-width="1.1" />
<line x1="124.60" y1="387.40" x2="124.60" y2="390.40" stroke="#262626" stroke-width="1.1" />
<line x1="147.70" y1="387.40" x2="147.70" y2="390.40" stroke="#262626" stroke-width="1.1" />
<text x="0" y="0" font-size="7.5" text-anchor="end" fill="#303030" stroke="#303030" stroke-width="0.18"  transform="translate(60.60,398.60) rotate(-45)">Healthy BM</text>
<text x="0" y="0" font-size="7.5" text-anchor="end" fill="#303030" stroke="#303030" stroke-width="0.18"  transform="translate(83.80,398.60) rotate(-45)">FLT3-ITD−</text>
<text x="0" y="0" font-size="7.5" text-anchor="end" fill="#303030" stroke="#303030" stroke-width="0.18"  transform="translate(106.80,398.60) rotate(-45)">FLT3-ITD+</text>
<text x="0" y="0" font-size="7.5" text-anchor="end" fill="#303030" stroke="#303030" stroke-width="0.18"  transform="translate(129.90,398.60) rotate(-45)">Non-MLL</text>
<text x="0" y="0" font-size="7.5" text-anchor="end" fill="#303030" stroke="#303030" stroke-width="0.18"  transform="translate(153.00,398.60) rotate(-45)">MLL</text>
<line x1="54.80" y1="309.50" x2="147.70" y2="309.50" stroke="#3a3a3a" stroke-width="1.2" />
<line x1="54.80" y1="313.50" x2="124.60" y2="313.50" stroke="#3a3a3a" stroke-width="1.2" />
<line x1="54.80" y1="317.50" x2="101.90" y2="317.50" stroke="#3a3a3a" stroke-width="1.2" />
<line x1="56.30" y1="321.50" x2="78.80" y2="321.50" stroke="#3a3a3a" stroke-width="1.2" />
<line x1="78.30" y1="326.50" x2="101.90" y2="326.50" stroke="#3a3a3a" stroke-width="1.2" />
<line x1="124.60" y1="326.50" x2="147.70" y2="326.50" stroke="#3a3a3a" stroke-width="1.2" />
<line x1="98.90" y1="306.60" x2="98.90" y2="309.00" stroke="#333" stroke-width="0.8" />
<line x1="97.86" y1="307.20" x2="99.94" y2="308.40" stroke="#333" stroke-width="0.8" />
<line x1="99.94" y1="307.20" x2="97.86" y2="308.40" stroke="#333" stroke-width="0.8" />
<line x1="102.00" y1="306.60" x2="102.00" y2="309.00" stroke="#333" stroke-width="0.8" />
<line x1="100.96" y1="307.20" x2="103.04" y2="308.40" stroke="#333" stroke-width="0.8" />
<line x1="103.04" y1="307.20" x2="100.96" y2="308.40" stroke="#333" stroke-width="0.8" />
<line x1="105.10" y1="306.60" x2="105.10" y2="309.00" stroke="#333" stroke-width="0.8" />
<line x1="104.06" y1="307.20" x2="106.14" y2="308.40" stroke="#333" stroke-width="0.8" />
<line x1="106.14" y1="307.20" x2="104.06" y2="308.40" stroke="#333" stroke-width="0.8" />
<line x1="86.70" y1="310.60" x2="86.70" y2="313.00" stroke="#333" stroke-width="0.8" />
<line x1="85.66" y1="311.20" x2="87.74" y2="312.40" stroke="#333" stroke-width="0.8" />
<line x1="87.74" y1="311.20" x2="85.66" y2="312.40" stroke="#333" stroke-width="0.8" />
<line x1="89.80" y1="310.60" x2="89.80" y2="313.00" stroke="#333" stroke-width="0.8" />
<line x1="88.76" y1="311.20" x2="90.84" y2="312.40" stroke="#333" stroke-width="0.8" />
<line x1="90.84" y1="311.20" x2="88.76" y2="312.40" stroke="#333" stroke-width="0.8" />
<line x1="92.90" y1="310.60" x2="92.90" y2="313.00" stroke="#333" stroke-width="0.8" />
<line x1="91.86" y1="311.20" x2="93.94" y2="312.40" stroke="#333" stroke-width="0.8" />
<line x1="93.94" y1="311.20" x2="91.86" y2="312.40" stroke="#333" stroke-width="0.8" />
<line x1="75.40" y1="314.60" x2="75.40" y2="317.00" stroke="#333" stroke-width="0.8" />
<line x1="74.36" y1="315.20" x2="76.44" y2="316.40" stroke="#333" stroke-width="0.8" />
<line x1="76.44" y1="315.20" x2="74.36" y2="316.40" stroke="#333" stroke-width="0.8" />
<line x1="78.50" y1="314.60" x2="78.50" y2="317.00" stroke="#333" stroke-width="0.8" />
<line x1="77.46" y1="315.20" x2="79.54" y2="316.40" stroke="#333" stroke-width="0.8" />
<line x1="79.54" y1="315.20" x2="77.46" y2="316.40" stroke="#333" stroke-width="0.8" />
<line x1="81.60" y1="314.60" x2="81.60" y2="317.00" stroke="#333" stroke-width="0.8" />
<line x1="80.56" y1="315.20" x2="82.64" y2="316.40" stroke="#333" stroke-width="0.8" />
<line x1="82.64" y1="315.20" x2="80.56" y2="316.40" stroke="#333" stroke-width="0.8" />
<line x1="64.50" y1="318.60" x2="64.50" y2="321.00" stroke="#333" stroke-width="0.8" />
<line x1="63.46" y1="319.20" x2="65.54" y2="320.40" stroke="#333" stroke-width="0.8" />
<line x1="65.54" y1="319.20" x2="63.46" y2="320.40" stroke="#333" stroke-width="0.8" />
<line x1="67.60" y1="318.60" x2="67.60" y2="321.00" stroke="#333" stroke-width="0.8" />
<line x1="66.56" y1="319.20" x2="68.64" y2="320.40" stroke="#333" stroke-width="0.8" />
<line x1="68.64" y1="319.20" x2="66.56" y2="320.40" stroke="#333" stroke-width="0.8" />
<line x1="70.70" y1="318.60" x2="70.70" y2="321.00" stroke="#333" stroke-width="0.8" />
<line x1="69.66" y1="319.20" x2="71.74" y2="320.40" stroke="#333" stroke-width="0.8" />
<line x1="71.74" y1="319.20" x2="69.66" y2="320.40" stroke="#333" stroke-width="0.8" />
<line x1="86.70" y1="323.60" x2="86.70" y2="326.00" stroke="#333" stroke-width="0.8" />
<line x1="85.66" y1="324.20" x2="87.74" y2="325.40" stroke="#333" stroke-width="0.8" />
<line x1="87.74" y1="324.20" x2="85.66" y2="325.40" stroke="#333" stroke-width="0.8" />
<line x1="89.80" y1="323.60" x2="89.80" y2="326.00" stroke="#333" stroke-width="0.8" />
<line x1="88.76" y1="324.20" x2="90.84" y2="325.40" stroke="#333" stroke-width="0.8" />
<line x1="90.84" y1="324.20" x2="88.76" y2="325.40" stroke="#333" stroke-width="0.8" />
<line x1="92.90" y1="323.60" x2="92.90" y2="326.00" stroke="#333" stroke-width="0.8" />
<line x1="91.86" y1="324.20" x2="93.94" y2="325.40" stroke="#333" stroke-width="0.8" />
<line x1="93.94" y1="324.20" x2="91.86" y2="325.40" stroke="#333" stroke-width="0.8" />
<line x1="136.20" y1="323.60" x2="136.20" y2="326.00" stroke="#333" stroke-width="0.8" />
<line x1="135.16" y1="324.20" x2="137.24" y2="325.40" stroke="#333" stroke-width="0.8" />
<line x1="137.24" y1="324.20" x2="135.16" y2="325.40" stroke="#333" stroke-width="0.8" />
<line x1="55.30" y1="354.60" x2="55.30" y2="365.00" stroke="#444" stroke-width="1.1" />
<line x1="51.80" y1="354.60" x2="59.30" y2="354.60" stroke="#444" stroke-width="1.1" />
<line x1="55.30" y1="371.40" x2="55.30" y2="376.30" stroke="#444" stroke-width="1.1" />
<line x1="51.80" y1="376.30" x2="59.30" y2="376.30" stroke="#444" stroke-width="1.1" />
<rect x="48.40" y="365.00" width="14.40" height="6.40" fill="#3bb54a" stroke="#262626" stroke-width="1.1" />
<line x1="48.40" y1="368.00" x2="62.80" y2="368.00" stroke="#262626" stroke-width="1.1" />
<line x1="78.50" y1="328.10" x2="78.50" y2="378.20" stroke="#444" stroke-width="1.1" />
<line x1="74.40" y1="328.10" x2="82.00" y2="328.10" stroke="#444" stroke-width="1.1" />
<rect x="71.00" y="378.20" width="14.80" height="7.00" fill="#10528a" stroke="#262626" stroke-width="1.1" />
<line x1="71.00" y1="383.20" x2="85.80" y2="383.20" stroke="#262626" stroke-width="1.1" />
<line x1="101.30" y1="371.20" x2="101.30" y2="382.40" stroke="#444" stroke-width="1.1" />
<line x1="97.70" y1="371.20" x2="105.50" y2="371.20" stroke="#444" stroke-width="1.1" />
<rect x="93.80" y="382.40" width="14.90" height="3.60" fill="#c8102e" stroke="#262626" stroke-width="1.1" />
<line x1="93.80" y1="384.60" x2="108.70" y2="384.60" stroke="#262626" stroke-width="1.1" />
<line x1="124.30" y1="328.50" x2="124.30" y2="378.80" stroke="#444" stroke-width="1.1" />
<line x1="120.50" y1="328.50" x2="128.20" y2="328.50" stroke="#444" stroke-width="1.1" />
<rect x="116.70" y="378.80" width="15.20" height="6.80" fill="#10528a" stroke="#262626" stroke-width="1.1" />
<line x1="116.70" y1="383.50" x2="131.90" y2="383.50" stroke="#262626" stroke-width="1.1" />
<line x1="147.20" y1="375.40" x2="147.20" y2="382.40" stroke="#444" stroke-width="1.1" />
<line x1="143.30" y1="375.40" x2="151.10" y2="375.40" stroke="#444" stroke-width="1.1" />
<rect x="139.50" y="382.40" width="14.90" height="3.60" fill="#6e1020" stroke="#262626" stroke-width="1.1" />
<line x1="139.50" y1="384.60" x2="154.40" y2="384.60" stroke="#262626" stroke-width="1.1" />
<text x="174.50" y="300.40" font-size="11.74" font-weight="bold" fill="#000" textLength="2.80" lengthAdjust="spacingAndGlyphs">I</text>
<text x="249.25" y="301.30" font-size="9.8" fill="#303030" font-weight="normal" textLength="45.00" lengthAdjust="spacingAndGlyphs" >GSE30285</text>
<line x1="211.90" y1="308.50" x2="211.90" y2="388.20" stroke="#262626" stroke-width="1.1" />
<line x1="208.90" y1="309.00" x2="211.90" y2="309.00" stroke="#262626" stroke-width="1.1" />
<text x="206.15" y="311.87" font-size="8.2" fill="#303030" text-anchor="end" textLength="10.16" lengthAdjust="spacingAndGlyphs">7.0</text>
<line x1="208.90" y1="322.20" x2="211.90" y2="322.20" stroke="#262626" stroke-width="1.1" />
<text x="206.15" y="325.07" font-size="8.2" fill="#303030" text-anchor="end" textLength="10.16" lengthAdjust="spacingAndGlyphs">6.5</text>
<line x1="208.90" y1="335.50" x2="211.90" y2="335.50" stroke="#262626" stroke-width="1.1" />
<text x="206.15" y="338.37" font-size="8.2" fill="#303030" text-anchor="end" textLength="10.16" lengthAdjust="spacingAndGlyphs">6.0</text>
<line x1="208.90" y1="348.60" x2="211.90" y2="348.60" stroke="#262626" stroke-width="1.1" />
<text x="206.15" y="351.47" font-size="8.2" fill="#303030" text-anchor="end" textLength="10.16" lengthAdjust="spacingAndGlyphs">5.5</text>
<line x1="208.90" y1="361.80" x2="211.90" y2="361.80" stroke="#262626" stroke-width="1.1" />
<text x="206.15" y="364.67" font-size="8.2" fill="#303030" text-anchor="end" textLength="10.16" lengthAdjust="spacingAndGlyphs">5.0</text>
<line x1="208.90" y1="375.10" x2="211.90" y2="375.10" stroke="#262626" stroke-width="1.1" />
<text x="206.15" y="377.97" font-size="8.2" fill="#303030" text-anchor="end" textLength="10.16" lengthAdjust="spacingAndGlyphs">4.5</text>
<line x1="208.90" y1="388.20" x2="211.90" y2="388.20" stroke="#262626" stroke-width="1.1" />
<text x="206.15" y="391.07" font-size="8.2" fill="#303030" text-anchor="end" textLength="10.16" lengthAdjust="spacingAndGlyphs">4.0</text>
<line x1="211.90" y1="388.20" x2="331.60" y2="388.20" stroke="#262626" stroke-width="1.1" />
<line x1="232.80" y1="388.20" x2="232.80" y2="391.20" stroke="#262626" stroke-width="1.1" />
<line x1="272.20" y1="388.20" x2="272.20" y2="391.20" stroke="#262626" stroke-width="1.1" />
<line x1="311.90" y1="388.20" x2="311.90" y2="391.20" stroke="#262626" stroke-width="1.1" />
<text x="219.75" y="400.00" font-size="8.2" fill="#303030" font-weight="normal" textLength="26.00" lengthAdjust="spacingAndGlyphs" >Control</text>
<text x="254.75" y="400.00" font-size="8.2" fill="#303030" font-weight="normal" textLength="35.00" lengthAdjust="spacingAndGlyphs" >Non-MLL</text>
<text x="303.75" y="400.00" font-size="8.2" fill="#303030" font-weight="normal" textLength="16.50" lengthAdjust="spacingAndGlyphs" >MLL</text>
<text x="0" y="0" font-size="8.7" text-anchor="middle" fill="#303030" textLength="70.00" lengthAdjust="spacingAndGlyphs" transform="translate(189.30,345.30) rotate(-90)">GADD45g expression</text>
<line x1="232.80" y1="314.00" x2="311.90" y2="314.00" stroke="#333" stroke-width="1.2" />
<line x1="272.20" y1="321.00" x2="311.90" y2="321.00" stroke="#333" stroke-width="1.2" />
<line x1="272.20" y1="310.30" x2="272.20" y2="313.30" stroke="#333" stroke-width="0.9" />
<line x1="270.90" y1="311.05" x2="273.50" y2="312.55" stroke="#333" stroke-width="0.9" />
<line x1="273.50" y1="311.05" x2="270.90" y2="312.55" stroke="#333" stroke-width="0.9" />
<line x1="292.50" y1="317.30" x2="292.50" y2="320.30" stroke="#333" stroke-width="0.9" />
<line x1="291.20" y1="318.05" x2="293.80" y2="319.55" stroke="#333" stroke-width="0.9" />
<line x1="293.80" y1="318.05" x2="291.20" y2="319.55" stroke="#333" stroke-width="0.9" />
<line x1="232.80" y1="333.20" x2="232.80" y2="338.40" stroke="#262626" stroke-width="1.1" />
<line x1="232.80" y1="353.60" x2="232.80" y2="359.30" stroke="#262626" stroke-width="1.1" />
<line x1="225.30" y1="333.20" x2="239.60" y2="333.20" stroke="#262626" stroke-width="1.1" />
<line x1="225.30" y1="359.30" x2="239.60" y2="359.30" stroke="#262626" stroke-width="1.1" />
<rect x="219.80" y="338.40" width="25.90" height="15.20" fill="#3bb54a" stroke="#262626" stroke-width="1.1" />
<line x1="219.80" y1="348.60" x2="245.70" y2="348.60" stroke="#262626" stroke-width="1.1" />
<line x1="272.20" y1="322.00" x2="272.20" y2="345.90" stroke="#262626" stroke-width="1.1" />
<line x1="272.20" y1="359.50" x2="272.20" y2="371.30" stroke="#262626" stroke-width="1.1" />
<line x1="265.40" y1="322.00" x2="279.10" y2="322.00" stroke="#262626" stroke-width="1.1" />
<line x1="265.40" y1="371.30" x2="279.10" y2="371.30" stroke="#262626" stroke-width="1.1" />
<rect x="259.50" y="345.90" width="25.60" height="13.60" fill="#10528a" stroke="#262626" stroke-width="1.1" />
<line x1="259.50" y1="354.40" x2="285.10" y2="354.40" stroke="#262626" stroke-width="1.1" />
<line x1="311.90" y1="341.70" x2="311.90" y2="350.00" stroke="#262626" stroke-width="1.1" />
<line x1="311.90" y1="364.80" x2="311.90" y2="378.70" stroke="#262626" stroke-width="1.1" />
<line x1="305.00" y1="341.70" x2="318.70" y2="341.70" stroke="#262626" stroke-width="1.1" />
<line x1="305.00" y1="378.70" x2="318.70" y2="378.70" stroke="#262626" stroke-width="1.1" />
<rect x="299.00" y="350.00" width="25.60" height="14.80" fill="#c8102e" stroke="#262626" stroke-width="1.1" />
<line x1="299.00" y1="358.40" x2="324.60" y2="358.40" stroke="#262626" stroke-width="1.1" />
<text x="358.00" y="301.00" font-size="11.74" font-weight="bold" fill="#000" textLength="5.40" lengthAdjust="spacingAndGlyphs">J</text>
<text x="425.55" y="299.90" font-size="9.8" fill="#303030" font-weight="normal" textLength="45.30" lengthAdjust="spacingAndGlyphs" >GSE10358</text>
<line x1="391.90" y1="299.90" x2="391.90" y2="384.60" stroke="#262626" stroke-width="1.1" />
<line x1="388.90" y1="300.40" x2="391.90" y2="300.40" stroke="#262626" stroke-width="1.1" />
<text x="386.15" y="303.27" font-size="8.2" fill="#303030" text-anchor="end" textLength="12.89" lengthAdjust="spacingAndGlyphs">100</text>
<line x1="388.90" y1="321.40" x2="391.90" y2="321.40" stroke="#262626" stroke-width="1.1" />
<line x1="388.90" y1="342.40" x2="391.90" y2="342.40" stroke="#262626" stroke-width="1.1" />
<text x="386.15" y="345.27" font-size="8.2" fill="#303030" text-anchor="end" textLength="8.56" lengthAdjust="spacingAndGlyphs">50</text>
<line x1="388.90" y1="363.40" x2="391.90" y2="363.40" stroke="#262626" stroke-width="1.1" />
<line x1="388.90" y1="384.60" x2="391.90" y2="384.60" stroke="#262626" stroke-width="1.1" />
<text x="386.15" y="387.47" font-size="8.2" fill="#303030" text-anchor="end" textLength="4.23" lengthAdjust="spacingAndGlyphs">0</text>
<line x1="391.90" y1="384.80" x2="499.80" y2="384.80" stroke="#262626" stroke-width="1.1" />
<line x1="391.70" y1="384.80" x2="391.70" y2="387.80" stroke="#262626" stroke-width="1.1" />
<line x1="427.80" y1="384.80" x2="427.80" y2="387.80" stroke="#262626" stroke-width="1.1" />
<line x1="464.00" y1="384.80" x2="464.00" y2="387.80" stroke="#262626" stroke-width="1.1" />
<line x1="499.80" y1="384.80" x2="499.80" y2="387.80" stroke="#262626" stroke-width="1.1" />
<text x="391.70" y="396.60" font-size="8.0" fill="#303030" text-anchor="middle" textLength="4.13" lengthAdjust="spacingAndGlyphs">0</text>
<text x="427.80" y="396.60" font-size="8.0" fill="#303030" text-anchor="middle" textLength="8.35" lengthAdjust="spacingAndGlyphs">20</text>
<text x="464.00" y="396.60" font-size="8.0" fill="#303030" text-anchor="middle" textLength="8.35" lengthAdjust="spacingAndGlyphs">40</text>
<text x="499.80" y="396.60" font-size="8.0" fill="#303030" text-anchor="middle" textLength="8.35" lengthAdjust="spacingAndGlyphs">60</text>
<text x="421.65" y="408.60" font-size="8.3" fill="#303030" font-weight="normal" textLength="48.50" lengthAdjust="spacingAndGlyphs" >Time (months)</text>
<text x="0" y="0" font-size="8.3" text-anchor="middle" fill="#303030" textLength="66.00" lengthAdjust="spacingAndGlyphs" transform="translate(368.20,339.90) rotate(-90)">Overal survival (%)</text>
<path d="M391.80,301.00 L393.10,301.00 L393.10,305.10 L394.80,305.10 L394.80,306.70 L396.40,306.70 L396.40,307.60 L399.70,307.60 L400.60,307.60 L400.60,309.20 L402.20,309.20 L402.20,310.90 L403.90,310.90 L403.90,312.50 L404.70,312.50 L404.70,315.80 L405.50,315.80 L405.50,319.10 L407.20,319.10 L407.20,321.60 L408.80,321.60 L408.80,324.10 L410.50,324.10 L410.50,325.80 L412.10,325.80 L412.10,328.20 L413.00,328.20 L413.00,330.70 L414.60,330.70 L414.60,331.50 L417.90,331.50 L419.60,331.50 L419.60,332.40 L422.10,332.40 L422.10,333.20 L425.40,333.20 L425.40,334.00 L428.70,334.00 L428.70,334.80 L433.60,334.80 L433.60,335.70 L436.10,335.70 L436.10,336.50 L436.90,336.50 L436.90,338.10 L484.00,338.10" fill="none" stroke="#10528a" stroke-width="1.3"/>
<line x1="398.00" y1="305.90" x2="398.00" y2="307.90" stroke="#10528a" stroke-width="0.9" />
<line x1="409.00" y1="322.40" x2="409.00" y2="324.40" stroke="#10528a" stroke-width="0.9" />
<line x1="416.00" y1="329.80" x2="416.00" y2="331.80" stroke="#10528a" stroke-width="0.9" />
<line x1="420.00" y1="330.70" x2="420.00" y2="332.70" stroke="#10528a" stroke-width="0.9" />
<line x1="424.00" y1="331.50" x2="424.00" y2="333.50" stroke="#10528a" stroke-width="0.9" />
<line x1="428.00" y1="332.30" x2="428.00" y2="334.30" stroke="#10528a" stroke-width="0.9" />
<line x1="432.00" y1="333.10" x2="432.00" y2="335.10" stroke="#10528a" stroke-width="0.9" />
<line x1="440.00" y1="336.40" x2="440.00" y2="338.40" stroke="#10528a" stroke-width="0.9" />
<line x1="444.00" y1="336.40" x2="444.00" y2="338.40" stroke="#10528a" stroke-width="0.9" />
<line x1="448.00" y1="336.40" x2="448.00" y2="338.40" stroke="#10528a" stroke-width="0.9" />
<line x1="452.00" y1="336.40" x2="452.00" y2="338.40" stroke="#10528a" stroke-width="0.9" />
<line x1="456.00" y1="336.40" x2="456.00" y2="338.40" stroke="#10528a" stroke-width="0.9" />
<line x1="460.00" y1="336.40" x2="460.00" y2="338.40" stroke="#10528a" stroke-width="0.9" />
<line x1="464.00" y1="336.40" x2="464.00" y2="338.40" stroke="#10528a" stroke-width="0.9" />
<line x1="468.00" y1="336.40" x2="468.00" y2="338.40" stroke="#10528a" stroke-width="0.9" />
<line x1="472.00" y1="336.40" x2="472.00" y2="338.40" stroke="#10528a" stroke-width="0.9" />
<line x1="476.00" y1="336.40" x2="476.00" y2="338.40" stroke="#10528a" stroke-width="0.9" />
<line x1="480.00" y1="336.40" x2="480.00" y2="338.40" stroke="#10528a" stroke-width="0.9" />
<line x1="483.00" y1="336.40" x2="483.00" y2="338.40" stroke="#10528a" stroke-width="0.9" />
<path d="M391.80,301.00 L392.60,301.00 L392.60,303.40 L393.10,303.40 L393.10,305.90 L395.60,305.90 L395.60,307.60 L398.10,307.60 L398.10,309.20 L399.70,309.20 L399.70,310.90 L401.40,310.90 L401.40,313.40 L403.00,313.40 L403.00,315.80 L404.70,315.80 L404.70,320.00 L405.50,320.00 L405.50,324.10 L406.40,324.10 L406.40,325.80 L408.80,325.80 L408.80,328.20 L410.50,328.20 L411.30,328.20 L411.30,330.70 L411.30,333.20 L417.90,333.20 L417.90,335.70 L418.80,335.70 L418.80,338.10 L419.60,338.10 L419.60,343.90 L420.40,343.90 L420.40,348.90 L421.20,348.90 L421.20,353.00 L431.10,353.00 L432.00,353.00 L432.00,355.50 L432.80,355.50 L432.80,358.00 L437.80,358.00 L437.80,367.10 L442.70,367.10 L442.70,375.30 L445.20,375.30 L445.20,384.60" fill="none" stroke="#c8102e" stroke-width="1.3"/>
<text x="394.6" y="379.9" font-size="8.6" fill="#303030" textLength="35" lengthAdjust="spacingAndGlyphs"><tspan font-style="italic">p</tspan>=0.0173</text>
<text x="451.75" y="378.90" font-size="8.0" fill="#303030" font-weight="normal" textLength="18.50" lengthAdjust="spacingAndGlyphs" >n=30</text>
<text x="479.25" y="333.90" font-size="8.0" fill="#303030" font-weight="normal" textLength="17.40" lengthAdjust="spacingAndGlyphs" >n=61</text>
<line x1="447.90" y1="308.80" x2="457.20" y2="308.80" stroke="#c8102e" stroke-width="1.3" />
<line x1="452.55" y1="307.20" x2="452.55" y2="308.80" stroke="#c8102e" stroke-width="1.0" />
<text x="462.15" y="311.60" font-size="8.0" fill="#303030" font-weight="normal" textLength="49.00" lengthAdjust="spacingAndGlyphs" >GADD45g-low</text>
<line x1="447.90" y1="319.70" x2="457.20" y2="319.70" stroke="#10528a" stroke-width="1.3" />
<line x1="452.55" y1="318.10" x2="452.55" y2="319.70" stroke="#10528a" stroke-width="1.0" />
<text x="462.15" y="322.50" font-size="8.0" fill="#303030" font-weight="normal" textLength="52.10" lengthAdjust="spacingAndGlyphs" >GADD45g-high</text>
<text x="176.70" y="438.60" font-size="11.88" font-weight="bold" fill="#000" textLength="7.90" lengthAdjust="spacingAndGlyphs">K</text>
<text x="249.75" y="438.70" font-size="9.8" fill="#303030" font-weight="normal" textLength="44.70" lengthAdjust="spacingAndGlyphs" >GSE10358</text>
<line x1="215.90" y1="439.80" x2="215.90" y2="525.10" stroke="#262626" stroke-width="1.1" />
<line x1="212.90" y1="440.30" x2="215.90" y2="440.30" stroke="#262626" stroke-width="1.1" />
<text x="210.15" y="443.17" font-size="8.2" fill="#303030" text-anchor="end" textLength="12.89" lengthAdjust="spacingAndGlyphs">100</text>
<line x1="212.90" y1="461.50" x2="215.90" y2="461.50" stroke="#262626" stroke-width="1.1" />
<line x1="212.90" y1="482.70" x2="215.90" y2="482.70" stroke="#262626" stroke-width="1.1" />
<text x="210.15" y="485.57" font-size="8.2" fill="#303030" text-anchor="end" textLength="8.56" lengthAdjust="spacingAndGlyphs">50</text>
<line x1="212.90" y1="503.90" x2="215.90" y2="503.90" stroke="#262626" stroke-width="1.1" />
<line x1="212.90" y1="525.10" x2="215.90" y2="525.10" stroke="#262626" stroke-width="1.1" />
<text x="210.15" y="527.97" font-size="8.2" fill="#303030" text-anchor="end" textLength="4.23" lengthAdjust="spacingAndGlyphs">0</text>
<line x1="215.90" y1="525.50" x2="341.80" y2="525.50" stroke="#262626" stroke-width="1.1" />
<line x1="215.90" y1="525.50" x2="215.90" y2="528.50" stroke="#262626" stroke-width="1.1" />
<line x1="257.60" y1="525.50" x2="257.60" y2="528.50" stroke="#262626" stroke-width="1.1" />
<line x1="299.90" y1="525.50" x2="299.90" y2="528.50" stroke="#262626" stroke-width="1.1" />
<line x1="341.80" y1="525.50" x2="341.80" y2="528.50" stroke="#262626" stroke-width="1.1" />
<text x="215.90" y="537.30" font-size="8.0" fill="#303030" text-anchor="middle" textLength="4.13" lengthAdjust="spacingAndGlyphs">0</text>
<text x="257.60" y="537.30" font-size="8.0" fill="#303030" text-anchor="middle" textLength="8.35" lengthAdjust="spacingAndGlyphs">20</text>
<text x="299.90" y="537.30" font-size="8.0" fill="#303030" text-anchor="middle" textLength="8.35" lengthAdjust="spacingAndGlyphs">40</text>
<text x="341.80" y="537.30" font-size="8.0" fill="#303030" text-anchor="middle" textLength="8.35" lengthAdjust="spacingAndGlyphs">60</text>
<text x="254.75" y="549.20" font-size="8.3" fill="#303030" font-weight="normal" textLength="48.50" lengthAdjust="spacingAndGlyphs" >Time (months)</text>
<text x="0" y="0" font-size="8.3" text-anchor="middle" fill="#303030" textLength="78.40" lengthAdjust="spacingAndGlyphs" transform="translate(191.60,479.70) rotate(-90)">Event free survival (%)</text>
<path d="M216.30,441.00 L218.50,441.00 L218.50,444.60 L219.90,444.60 L219.90,446.80 L222.80,446.80 L222.80,448.20 L224.90,448.20 L225.60,448.20 L225.60,449.60 L226.40,449.60 L226.40,451.80 L227.80,451.80 L227.80,454.70 L229.20,454.70 L229.20,457.50 L230.70,457.50 L230.70,459.70 L232.10,459.70 L232.10,462.60 L233.50,462.60 L233.50,464.00 L235.00,464.00 L235.00,466.10 L236.40,466.10 L236.40,468.30 L237.80,468.30 L237.80,469.70 L240.00,469.70 L240.00,471.20 L241.40,471.20 L241.40,472.60 L243.60,472.60 L243.60,474.00 L245.70,474.00 L245.70,475.50 L248.60,475.50 L248.60,476.20 L250.80,476.20 L250.80,476.90 L251.50,476.90 L251.50,478.80 L323.20,478.80" fill="none" stroke="#10528a" stroke-width="1.3"/>
<path d="M216.30,441.00 L217.70,441.00 L217.70,444.60 L219.90,444.60 L219.90,446.80 L219.90,449.60 L222.00,449.60 L222.00,452.50 L224.20,452.50 L224.20,456.10 L225.60,456.10 L225.60,459.70 L227.10,459.70 L227.10,461.80 L228.50,461.80 L228.50,463.30 L230.70,463.30 L230.70,466.10 L232.10,466.10 L232.10,470.40 L233.20,470.40 L233.20,475.50 L234.20,475.50 L234.20,479.80 L235.70,479.80 L235.70,483.40 L240.00,483.40 L240.00,484.80 L241.40,484.80 L241.40,487.00 L242.90,487.00 L242.90,491.30 L244.30,491.30 L244.30,494.90 L246.40,494.90 L246.40,499.20 L251.50,499.20 L251.50,507.80 L265.10,507.80" fill="none" stroke="#c8102e" stroke-width="1.3"/>
<line x1="221.00" y1="445.10" x2="221.00" y2="447.10" stroke="#10528a" stroke-width="0.9" />
<line x1="238.00" y1="468.00" x2="238.00" y2="470.00" stroke="#10528a" stroke-width="0.9" />
<line x1="244.00" y1="472.30" x2="244.00" y2="474.30" stroke="#10528a" stroke-width="0.9" />
<line x1="249.00" y1="474.50" x2="249.00" y2="476.50" stroke="#10528a" stroke-width="0.9" />
<line x1="256.00" y1="477.10" x2="256.00" y2="479.10" stroke="#10528a" stroke-width="0.9" />
<line x1="261.00" y1="477.10" x2="261.00" y2="479.10" stroke="#10528a" stroke-width="0.9" />
<line x1="266.00" y1="477.10" x2="266.00" y2="479.10" stroke="#10528a" stroke-width="0.9" />
<line x1="271.00" y1="477.10" x2="271.00" y2="479.10" stroke="#10528a" stroke-width="0.9" />
<line x1="276.00" y1="477.10" x2="276.00" y2="479.10" stroke="#10528a" stroke-width="0.9" />
<line x1="281.00" y1="477.10" x2="281.00" y2="479.10" stroke="#10528a" stroke-width="0.9" />
<line x1="286.00" y1="477.10" x2="286.00" y2="479.10" stroke="#10528a" stroke-width="0.9" />
<line x1="291.00" y1="477.10" x2="291.00" y2="479.10" stroke="#10528a" stroke-width="0.9" />
<line x1="296.00" y1="477.10" x2="296.00" y2="479.10" stroke="#10528a" stroke-width="0.9" />
<line x1="301.00" y1="477.10" x2="301.00" y2="479.10" stroke="#10528a" stroke-width="0.9" />
<line x1="306.00" y1="477.10" x2="306.00" y2="479.10" stroke="#10528a" stroke-width="0.9" />
<line x1="311.00" y1="477.10" x2="311.00" y2="479.10" stroke="#10528a" stroke-width="0.9" />
<line x1="316.00" y1="477.10" x2="316.00" y2="479.10" stroke="#10528a" stroke-width="0.9" />
<line x1="321.00" y1="477.10" x2="321.00" y2="479.10" stroke="#10528a" stroke-width="0.9" />
<line x1="260.00" y1="506.10" x2="260.00" y2="508.10" stroke="#c8102e" stroke-width="0.9" />
<line x1="262.50" y1="506.10" x2="262.50" y2="508.10" stroke="#c8102e" stroke-width="0.9" />
<line x1="264.50" y1="506.10" x2="264.50" y2="508.10" stroke="#c8102e" stroke-width="0.9" />
<text x="217.6" y="521.6" font-size="8.6" fill="#303030" textLength="34.3" lengthAdjust="spacingAndGlyphs"><tspan font-style="italic">p</tspan>=0.0157</text>
<text x="260.05" y="516.00" font-size="8.0" fill="#303030" font-weight="normal" textLength="18.50" lengthAdjust="spacingAndGlyphs" >n=30</text>
<text x="315.55" y="475.90" font-size="8.0" fill="#303030" font-weight="normal" textLength="18.20" lengthAdjust="spacingAndGlyphs" >n=61</text>
<line x1="273.30" y1="450.70" x2="282.40" y2="450.70" stroke="#c8102e" stroke-width="1.3" />
<line x1="277.85" y1="449.10" x2="277.85" y2="450.70" stroke="#c8102e" stroke-width="1.0" />
<text x="287.85" y="453.50" font-size="8.0" fill="#303030" font-weight="normal" textLength="48.90" lengthAdjust="spacingAndGlyphs" >GADD45g-low</text>
<line x1="273.30" y1="461.80" x2="282.40" y2="461.80" stroke="#10528a" stroke-width="1.3" />
<line x1="277.85" y1="460.20" x2="277.85" y2="461.80" stroke="#10528a" stroke-width="1.0" />
<text x="287.85" y="464.60" font-size="8.0" fill="#303030" font-weight="normal" textLength="51.40" lengthAdjust="spacingAndGlyphs" >GADD45g-high</text>
<rect x="0.8" y="0.8" width="518.4" height="555.4" fill="none" stroke="#000" stroke-width="1.7"/>
</svg>
</body></html>
